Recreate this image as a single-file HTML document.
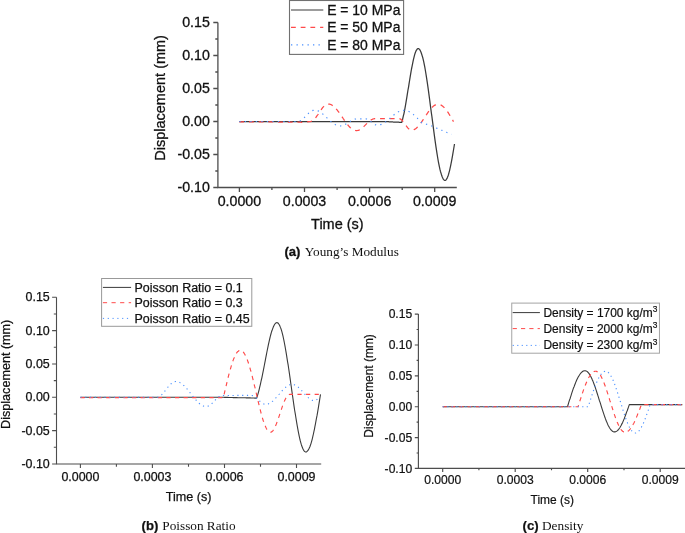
<!DOCTYPE html>
<html><head><meta charset="utf-8"><title>Figure</title>
<style>html,body{margin:0;padding:0;background:#fff;}svg{display:block;font-family:"Liberation Sans",Arial,Helvetica,sans-serif;}text{stroke:#111;stroke-width:0.3px;}.pb text{stroke-width:0.25px;}.pc text{stroke-width:0.2px;}svg text.cap{stroke:none;}</style>
</head><body>
<svg width="685" height="533" viewBox="0 0 685 533">
<rect width="685" height="533" fill="#fff"/>
<g class="pa">
<path d="M217.9 22.5 V187.5 H456.8" fill="none" stroke="#4d4d4d" stroke-width="1.3"/>
<path d="M213.3 22.5H217.9M215.3 39.0H217.9M213.3 55.5H217.9M215.3 72.0H217.9M213.3 88.5H217.9M215.3 105.0H217.9M213.3 121.5H217.9M215.3 138.0H217.9M213.3 154.5H217.9M215.3 171.0H217.9M213.3 187.5H217.9M239.4 187.5V192.1M271.9 187.5V190.1M304.5 187.5V192.1M337.1 187.5V190.1M369.6 187.5V192.1M402.2 187.5V190.1M434.7 187.5V192.1" fill="none" stroke="#4d4d4d" stroke-width="1.3"/>
<g font-size="14.2" fill="#111">
<text x="209.8" y="27.1" text-anchor="end">0.15</text>
<text x="209.8" y="60.1" text-anchor="end">0.10</text>
<text x="209.8" y="93.1" text-anchor="end">0.05</text>
<text x="209.8" y="126.1" text-anchor="end">0.00</text>
<text x="209.8" y="159.1" text-anchor="end">-0.05</text>
<text x="209.8" y="192.1" text-anchor="end">-0.10</text>
<text x="239.4" y="206.0" text-anchor="middle">0.0000</text>
<text x="304.5" y="206.0" text-anchor="middle">0.0003</text>
<text x="369.6" y="206.0" text-anchor="middle">0.0006</text>
<text x="434.7" y="206.0" text-anchor="middle">0.0009</text>
<text x="337.4" y="228.9" font-size="14.5" text-anchor="middle">Time (s)</text>
<text transform="translate(165.3 97.9) rotate(-90)" font-size="14.5" text-anchor="middle">Displacement (mm)</text>
</g>
<path d="M239.3 121.5 L239.8 121.5 L240.3 121.5 L240.8 121.5 L241.3 121.5 L241.8 121.5 L242.3 121.5 L242.8 121.5 L243.3 121.5 L243.8 121.5 L244.3 121.5 L244.8 121.5 L245.3 121.5 L245.8 121.5 L246.3 121.5 L246.8 121.5 L247.3 121.5 L247.8 121.5 L248.3 121.5 L248.8 121.5 L249.3 121.5 L249.8 121.5 L250.3 121.5 L250.8 121.5 L251.3 121.5 L251.8 121.5 L252.3 121.5 L252.8 121.5 L253.3 121.5 L253.8 121.5 L254.3 121.5 L254.8 121.5 L255.3 121.5 L255.8 121.5 L256.3 121.5 L256.8 121.5 L257.3 121.5 L257.8 121.5 L258.3 121.5 L258.8 121.5 L259.3 121.5 L259.8 121.5 L260.3 121.5 L260.8 121.5 L261.3 121.5 L261.8 121.5 L262.3 121.5 L262.8 121.5 L263.3 121.5 L263.8 121.5 L264.3 121.5 L264.8 121.5 L265.3 121.5 L265.8 121.5 L266.3 121.5 L266.8 121.5 L267.3 121.5 L267.8 121.5 L268.3 121.5 L268.8 121.5 L269.3 121.5 L269.8 121.5 L270.3 121.5 L270.8 121.5 L271.3 121.5 L271.8 121.5 L272.3 121.5 L272.8 121.5 L273.3 121.5 L273.8 121.5 L274.3 121.5 L274.8 121.5 L275.3 121.5 L275.9 121.5 L276.4 121.5 L276.9 121.5 L277.4 121.5 L277.9 121.5 L278.4 121.5 L278.9 121.5 L279.4 121.5 L279.9 121.5 L280.4 121.5 L280.9 121.5 L281.4 121.5 L281.9 121.5 L282.4 121.5 L282.9 121.5 L283.4 121.5 L283.9 121.5 L284.4 121.5 L284.9 121.5 L285.4 121.5 L285.9 121.5 L286.4 121.5 L286.9 121.5 L287.4 121.5 L287.9 121.5 L288.4 121.5 L288.9 121.5 L289.4 121.5 L289.9 121.5 L290.4 121.5 L290.9 121.5 L291.4 121.5 L291.9 121.5 L292.4 121.5 L292.9 121.5 L293.4 121.5 L293.9 121.5 L294.4 121.5 L294.9 121.5 L295.4 121.5 L295.9 121.5 L296.4 121.5 L296.9 121.5 L297.4 121.5 L297.9 121.5 L298.4 121.5 L298.9 121.5 L299.4 121.5 L299.9 121.5 L300.4 121.5 L300.9 121.5 L301.4 121.5 L301.9 121.5 L302.4 121.5 L302.9 121.5 L303.4 121.5 L303.9 121.5 L304.4 121.5 L304.9 121.5 L305.4 121.5 L305.9 121.5 L306.4 121.5 L306.9 121.5 L307.4 121.5 L307.9 121.5 L308.4 121.5 L308.9 121.5 L309.4 121.5 L309.9 121.5 L310.4 121.5 L310.9 121.5 L311.4 121.5 L311.9 121.5 L312.4 121.5 L312.9 121.5 L313.4 121.5 L313.9 121.5 L314.4 121.5 L314.9 121.5 L315.4 121.5 L315.9 121.5 L316.4 121.5 L316.9 121.5 L317.4 121.5 L317.9 121.5 L318.4 121.5 L318.9 121.5 L319.4 121.5 L319.9 121.5 L320.4 121.5 L320.9 121.5 L321.4 121.5 L321.9 121.5 L322.4 121.5 L322.9 121.5 L323.4 121.5 L323.9 121.5 L324.4 121.5 L324.9 121.5 L325.4 121.5 L325.9 121.5 L326.4 121.5 L326.9 121.5 L327.4 121.5 L327.9 121.5 L328.4 121.5 L328.9 121.5 L329.4 121.5 L329.9 121.5 L330.4 121.5 L330.9 121.5 L331.4 121.5 L331.9 121.5 L332.4 121.5 L332.9 121.5 L333.4 121.5 L333.9 121.5 L334.4 121.5 L334.9 121.5 L335.4 121.5 L335.9 121.5 L336.4 121.5 L336.9 121.5 L337.4 121.5 L337.9 121.5 L338.4 121.5 L338.9 121.5 L339.4 121.5 L339.9 121.5 L340.4 121.5 L340.9 121.5 L341.4 121.5 L341.9 121.5 L342.4 121.5 L342.9 121.5 L343.4 121.5 L343.9 121.5 L344.4 121.5 L344.9 121.5 L345.4 121.5 L345.9 121.5 L346.4 121.5 L346.9 121.5 L347.4 121.5 L348.0 121.5 L348.5 121.5 L349.0 121.5 L349.5 121.5 L350.0 121.5 L350.5 121.5 L351.0 121.5 L351.5 121.5 L352.0 121.5 L352.5 121.5 L353.0 121.5 L353.5 121.5 L354.0 121.5 L354.5 121.5 L355.0 121.5 L355.5 121.5 L356.0 121.5 L356.5 121.5 L357.0 121.5 L357.5 121.5 L358.0 121.5 L358.5 121.5 L359.0 121.5 L359.5 121.5 L360.0 121.5 L360.5 121.5 L361.0 121.5 L361.5 121.5 L362.0 121.5 L362.5 121.5 L363.0 121.5 L363.5 121.5 L364.0 121.5 L364.5 121.5 L365.0 121.5 L365.5 121.5 L366.0 121.5 L366.5 121.5 L367.0 121.5 L367.5 121.5 L368.0 121.5 L368.5 121.5 L369.0 121.5 L369.5 121.5 L370.0 121.5 L370.5 121.5 L371.0 121.5 L371.5 121.5 L372.0 121.5 L372.5 121.5 L373.0 121.5 L373.5 121.5 L374.0 121.5 L374.5 121.5 L375.0 121.5 L375.5 121.5 L376.0 121.5 L376.5 121.5 L377.0 121.5 L377.5 121.5 L378.0 121.5 L378.5 121.5 L379.0 121.5 L379.5 121.5 L380.0 121.5 L380.5 121.5 L381.0 121.5 L381.5 121.5 L382.0 121.5 L382.5 121.5 L383.0 121.5 L383.5 121.5 L384.0 121.5 L384.5 121.5 L385.0 121.6 L385.5 121.6 L386.0 121.6 L386.5 121.6 L387.1 121.7 L387.6 121.7 L388.1 121.7 L388.6 121.7 L389.1 121.8 L389.6 121.8 L390.1 121.8 L390.6 121.8 L391.1 121.9 L391.6 121.9 L392.1 121.9 L392.6 121.9 L393.2 122.0 L393.7 122.0 L394.2 122.0 L394.7 122.0 L395.2 122.1 L395.7 122.1 L396.2 122.1 L396.7 122.1 L397.2 122.2 L397.7 122.2 L398.2 122.2 L398.7 122.2 L399.3 122.3 L399.8 122.3 L400.3 122.3 L400.8 122.3 L401.3 122.4 L401.8 122.4 L402.3 120.5 L402.8 118.4 L403.3 116.2 L403.9 113.8 L404.4 111.3 L404.9 108.6 L405.4 105.8 L405.9 102.9 L406.4 99.9 L406.9 96.8 L407.4 93.7 L407.9 90.5 L408.5 87.3 L409.0 84.1 L409.5 81.0 L410.0 77.9 L410.5 74.8 L411.0 71.8 L411.5 69.0 L412.1 66.2 L412.6 63.6 L413.1 61.2 L413.6 58.9 L414.1 56.8 L414.6 54.9 L415.1 53.3 L415.6 51.9 L416.1 50.7 L416.7 49.8 L417.2 49.1 L417.7 48.7 L418.2 48.6 L418.7 48.7 L419.2 49.1 L419.7 49.6 L420.2 50.4 L420.7 51.5 L421.2 52.7 L421.7 54.2 L422.2 55.9 L422.8 57.8 L423.3 59.8 L423.8 62.1 L424.3 64.6 L424.8 67.2 L425.3 70.0 L425.8 73.0 L426.3 76.1 L426.8 79.3 L427.3 82.7 L427.8 86.2 L428.3 89.7 L428.8 93.4 L429.3 97.1 L429.8 100.9 L430.3 104.8 L430.8 108.6 L431.3 112.5 L431.9 116.5 L432.4 120.4 L432.9 124.2 L433.4 128.1 L433.9 131.9 L434.4 135.6 L434.9 139.3 L435.4 142.8 L435.9 146.3 L436.4 149.7 L436.9 152.9 L437.4 156.0 L437.9 159.0 L438.4 161.8 L438.9 164.4 L439.4 166.9 L439.9 169.2 L440.4 171.2 L441.0 173.1 L441.5 174.8 L442.0 176.3 L442.5 177.5 L443.0 178.6 L443.5 179.4 L444.0 179.9 L444.5 180.3 L445.0 180.4 L445.5 180.3 L446.0 179.9 L446.5 179.3 L447.0 178.4 L447.5 177.3 L448.0 176.0 L448.5 174.5 L449.0 172.7 L449.5 170.8 L450.0 168.7 L450.5 166.4 L451.0 163.9 L451.5 161.3 L452.0 158.6 L452.5 155.8 L453.0 152.9 L453.5 150.0 L454.0 147.0 L454.5 144.0" fill="none" stroke="#3a3a3a" stroke-width="1.25" stroke-linejoin="round"/>
<path d="M239.3 121.8 L239.8 121.8 L240.3 121.8 L240.8 121.8 L241.3 121.8 L241.8 121.8 L242.3 121.8 L242.8 121.8 L243.3 121.8 L243.8 121.8 L244.3 121.8 L244.8 121.8 L245.3 121.8 L245.8 121.8 L246.3 121.8 L246.8 121.8 L247.3 121.8 L247.8 121.8 L248.3 121.8 L248.8 121.8 L249.3 121.8 L249.8 121.8 L250.3 121.8 L250.8 121.8 L251.3 121.8 L251.9 121.9 L252.4 121.9 L252.9 121.9 L253.4 121.9 L253.9 121.9 L254.4 121.9 L254.9 121.9 L255.4 121.9 L255.9 121.9 L256.4 121.9 L256.9 121.9 L257.4 121.9 L257.9 121.9 L258.4 121.9 L258.9 121.9 L259.4 121.9 L259.9 121.9 L260.4 121.9 L260.9 121.9 L261.4 121.9 L261.9 121.9 L262.4 121.9 L262.9 121.9 L263.4 121.9 L263.9 121.9 L264.4 121.9 L264.9 121.9 L265.4 121.9 L265.9 121.9 L266.4 121.9 L266.9 121.9 L267.4 121.9 L267.9 121.9 L268.4 121.9 L268.9 121.9 L269.4 121.9 L269.9 121.9 L270.4 121.9 L270.9 121.9 L271.4 121.9 L271.9 121.9 L272.4 121.9 L272.9 121.9 L273.4 121.9 L273.9 121.9 L274.4 121.9 L274.9 121.9 L275.4 121.9 L276.0 122.0 L276.5 122.0 L277.0 122.0 L277.5 122.0 L278.0 122.0 L278.5 122.0 L279.0 122.0 L279.5 122.0 L280.0 122.0 L280.5 122.0 L281.0 122.0 L281.5 122.0 L282.0 122.0 L282.5 122.0 L283.0 122.0 L283.5 122.0 L284.0 122.0 L284.5 122.0 L285.0 122.0 L285.5 122.0 L286.0 122.0 L286.5 122.0 L287.0 122.0 L287.5 122.0 L288.0 122.0 L288.5 122.0 L289.0 122.0 L289.5 122.0 L290.0 122.0 L290.5 122.0 L291.0 122.1 L291.5 122.1 L292.0 122.1 L292.5 122.1 L293.0 122.1 L293.5 122.1 L294.0 122.1 L294.5 122.1 L295.0 122.1 L295.5 122.1 L296.0 122.2 L296.5 122.2 L297.0 122.2 L297.5 122.2 L298.0 122.2 L298.5 122.2 L299.0 122.2 L299.5 122.2 L300.0 122.2 L300.5 122.2 L301.0 122.2 L301.5 122.3 L302.0 122.3 L302.5 122.3 L303.0 122.3 L303.5 122.3 L304.0 122.3 L304.5 122.2 L305.0 122.2 L305.5 122.1 L306.0 122.0 L306.5 122.0 L307.0 121.9 L307.5 121.8 L308.0 121.8 L308.5 121.7 L309.0 121.6 L309.5 121.6 L310.0 121.5 L310.5 121.5 L311.0 121.4 L311.5 121.2 L312.0 121.0 L312.5 120.7 L313.0 120.3 L313.5 119.9 L314.0 119.5 L314.6 118.9 L315.1 118.4 L315.6 117.8 L316.1 117.1 L316.6 116.4 L317.1 115.7 L317.6 115.0 L318.1 114.3 L318.6 113.5 L319.1 112.8 L319.6 112.0 L320.1 111.2 L320.6 110.5 L321.1 109.8 L321.6 109.1 L322.1 108.4 L322.6 107.7 L323.1 107.1 L323.6 106.6 L324.2 106.0 L324.7 105.6 L325.2 105.2 L325.7 104.8 L326.2 104.5 L326.7 104.3 L327.2 104.1 L327.7 104.0 L328.2 104.0 L328.7 104.0 L329.2 104.1 L329.7 104.2 L330.2 104.3 L330.7 104.5 L331.2 104.7 L331.7 105.0 L332.2 105.3 L332.7 105.7 L333.3 106.0 L333.8 106.5 L334.3 106.9 L334.8 107.4 L335.3 107.9 L335.8 108.4 L336.3 109.0 L336.8 109.6 L337.3 110.2 L337.8 110.9 L338.3 111.5 L338.8 112.2 L339.3 112.9 L339.8 113.6 L340.3 114.3 L340.8 115.1 L341.3 115.8 L341.8 116.6 L342.4 117.3 L342.9 118.0 L343.4 118.8 L343.9 119.5 L344.4 120.3 L344.9 121.0 L345.4 121.7 L345.9 122.4 L346.4 123.1 L346.9 123.7 L347.4 124.4 L347.9 125.0 L348.4 125.6 L348.9 126.2 L349.4 126.7 L349.9 127.2 L350.4 127.7 L350.9 128.1 L351.4 128.6 L352.0 128.9 L352.5 129.3 L353.0 129.6 L353.5 129.9 L354.0 130.1 L354.5 130.3 L355.0 130.4 L355.5 130.5 L356.0 130.6 L356.5 130.6 L357.0 130.6 L357.5 130.5 L358.0 130.4 L358.5 130.3 L359.0 130.1 L359.5 129.8 L360.0 129.6 L360.5 129.3 L361.0 128.9 L361.5 128.6 L362.0 128.2 L362.5 127.8 L363.0 127.3 L363.5 126.9 L364.0 126.4 L364.5 125.9 L365.0 125.4 L365.5 124.9 L366.0 124.4 L366.5 123.9 L367.0 123.4 L367.5 122.9 L368.0 122.4 L368.5 122.0 L369.0 121.5 L369.5 121.1 L370.0 120.7 L370.5 120.4 L371.0 120.0 L371.5 119.7 L372.0 119.5 L372.5 119.2 L373.0 119.0 L373.5 118.9 L374.0 118.8 L374.5 118.7 L375.0 118.7 L375.5 118.7 L376.0 118.7 L376.5 118.7 L377.0 118.7 L377.5 118.7 L378.0 118.7 L378.5 118.7 L379.0 118.7 L379.5 118.7 L380.0 118.7 L380.5 118.7 L381.0 118.7 L381.5 118.7 L382.0 118.7 L382.5 118.7 L383.0 118.7 L383.5 118.7 L384.0 118.7 L384.5 118.7 L385.0 118.7 L385.5 118.7 L386.0 118.7 L386.5 118.7 L387.0 118.7 L387.5 118.7 L388.0 118.7 L388.5 118.7 L389.0 118.7 L389.5 118.7 L390.0 118.7 L390.5 118.7 L391.0 118.7 L391.5 118.7 L392.0 118.7 L392.5 118.7 L393.0 118.7 L393.5 118.7 L394.0 118.7 L394.5 118.7 L395.0 118.7 L395.5 118.7 L396.0 118.7 L396.5 118.7 L397.0 118.7 L397.5 118.7 L398.0 118.7 L398.5 118.7 L399.0 118.7 L399.5 118.7 L400.0 118.9 L400.5 119.1 L401.0 119.4 L401.5 119.8 L402.0 120.3 L402.5 120.8 L403.0 121.4 L403.5 122.0 L404.0 122.7 L404.5 123.4 L405.0 124.1 L405.5 124.8 L406.0 125.5 L406.5 126.2 L407.0 126.9 L407.5 127.5 L408.0 128.1 L408.5 128.6 L409.0 129.1 L409.5 129.5 L410.0 129.8 L410.5 130.0 L411.0 130.2 L411.5 130.2 L412.0 130.2 L412.5 130.1 L413.0 130.0 L413.5 129.8 L414.0 129.6 L414.5 129.4 L415.0 129.1 L415.5 128.8 L416.0 128.4 L416.5 128.0 L417.0 127.5 L417.5 127.1 L418.0 126.5 L418.5 126.0 L419.0 125.4 L419.5 124.8 L420.0 124.2 L420.5 123.5 L421.0 122.8 L421.5 122.1 L422.0 121.4 L422.5 120.7 L423.0 119.9 L423.5 119.2 L424.0 118.4 L424.5 117.6 L425.0 116.9 L425.5 116.1 L426.0 115.3 L426.5 114.6 L427.0 113.8 L427.5 113.1 L428.0 112.4 L428.5 111.7 L429.0 111.0 L429.5 110.3 L430.0 109.7 L430.5 109.1 L431.0 108.5 L431.5 108.0 L432.0 107.4 L432.5 107.0 L433.0 106.5 L433.5 106.1 L434.0 105.7 L434.5 105.4 L435.0 105.1 L435.5 104.9 L436.0 104.7 L436.5 104.5 L437.0 104.4 L437.5 104.3 L438.0 104.3 L438.5 104.3 L439.0 104.4 L439.5 104.5 L440.0 104.7 L440.5 104.9 L441.0 105.1 L441.5 105.4 L442.0 105.7 L442.5 106.1 L443.0 106.5 L443.5 106.9 L444.0 107.4 L444.5 107.9 L445.0 108.5 L445.5 109.1 L446.0 109.7 L446.5 110.3 L447.0 111.0 L447.5 111.7 L448.0 112.4 L448.5 113.2 L449.0 114.0 L449.5 114.8 L450.0 115.6 L450.5 116.4 L451.0 117.3 L451.5 118.1 L452.0 119.0 L452.5 119.8 L453.0 120.7 L453.5 121.6" fill="none" stroke="#ff4a4a" stroke-width="1.25" stroke-dasharray="4.8 4.9" stroke-linejoin="round"/>
<path d="M239.3 121.5 L239.8 121.5 L240.3 121.5 L240.8 121.5 L241.3 121.5 L241.8 121.5 L242.3 121.5 L242.8 121.5 L243.3 121.5 L243.8 121.5 L244.3 121.5 L244.8 121.5 L245.3 121.5 L245.8 121.5 L246.3 121.5 L246.8 121.5 L247.3 121.5 L247.8 121.5 L248.3 121.5 L248.8 121.5 L249.3 121.5 L249.8 121.5 L250.3 121.5 L250.8 121.5 L251.3 121.5 L251.8 121.5 L252.3 121.5 L252.8 121.5 L253.3 121.5 L253.9 121.5 L254.4 121.5 L254.9 121.5 L255.4 121.5 L255.9 121.5 L256.4 121.5 L256.9 121.5 L257.4 121.5 L257.9 121.5 L258.4 121.5 L258.9 121.5 L259.4 121.5 L259.9 121.5 L260.4 121.5 L260.9 121.5 L261.4 121.5 L261.9 121.5 L262.4 121.5 L262.9 121.5 L263.4 121.5 L263.9 121.5 L264.4 121.5 L264.9 121.5 L265.4 121.5 L265.9 121.5 L266.4 121.5 L266.9 121.5 L267.4 121.5 L267.9 121.5 L268.4 121.5 L268.9 121.5 L269.4 121.5 L269.9 121.5 L270.4 121.5 L270.9 121.5 L271.4 121.5 L271.9 121.5 L272.4 121.5 L272.9 121.5 L273.4 121.5 L273.9 121.5 L274.4 121.5 L274.9 121.5 L275.4 121.5 L275.9 121.5 L276.4 121.5 L276.9 121.5 L277.4 121.5 L277.9 121.5 L278.4 121.5 L278.9 121.5 L279.4 121.5 L279.9 121.5 L280.4 121.5 L280.9 121.5 L281.4 121.5 L281.9 121.5 L282.4 121.5 L282.9 121.5 L283.5 121.5 L284.0 121.5 L284.5 121.5 L285.0 121.5 L285.5 121.5 L286.0 121.5 L286.5 121.5 L287.0 121.5 L287.5 121.5 L288.0 121.5 L288.5 121.5 L289.0 121.5 L289.5 121.5 L290.0 121.5 L290.5 121.5 L291.0 121.5 L291.5 121.5 L292.0 121.5 L292.5 121.5 L293.0 121.5 L293.5 121.5 L294.0 121.5 L294.5 121.5 L295.0 121.5 L295.5 121.5 L296.0 121.5 L296.5 121.5 L297.0 121.5 L297.5 121.5 L298.0 121.5 L298.5 121.4 L299.0 121.3 L299.5 121.1 L300.0 120.9 L300.5 120.7 L301.0 120.4 L301.5 120.0 L302.0 119.7 L302.5 119.3 L303.0 118.8 L303.5 118.4 L304.0 117.9 L304.5 117.4 L305.0 116.9 L305.5 116.4 L306.0 115.9 L306.5 115.3 L307.0 114.8 L307.5 114.3 L308.0 113.8 L308.5 113.3 L309.0 112.9 L309.5 112.4 L310.0 112.0 L310.5 111.7 L311.0 111.3 L311.5 111.0 L312.0 110.8 L312.5 110.6 L313.0 110.4 L313.5 110.3 L314.0 110.2 L314.5 110.2 L315.0 110.2 L315.5 110.3 L316.0 110.3 L316.5 110.4 L317.0 110.6 L317.5 110.7 L318.0 110.9 L318.5 111.1 L319.0 111.4 L319.5 111.7 L320.0 111.9 L320.5 112.3 L321.0 112.6 L321.5 113.0 L322.0 113.3 L322.5 113.7 L323.0 114.2 L323.5 114.6 L324.0 115.0 L324.5 115.5 L325.0 115.9 L325.5 116.4 L326.0 116.9 L326.5 117.4 L327.0 117.9 L327.5 118.3 L328.0 118.8 L328.5 119.3 L329.0 119.8 L329.5 120.3 L330.0 120.7 L330.5 121.2 L331.0 121.6 L331.5 122.0 L332.0 122.5 L332.5 122.9 L333.0 123.2 L333.5 123.6 L334.0 123.9 L334.5 124.3 L335.0 124.5 L335.5 124.8 L336.0 125.1 L336.5 125.3 L337.0 125.5 L337.5 125.6 L338.0 125.8 L338.5 125.9 L339.0 125.9 L339.5 126.0 L340.0 126.0 L340.5 126.0 L341.0 125.9 L341.5 125.9 L342.0 125.8 L342.5 125.6 L343.0 125.5 L343.5 125.3 L344.0 125.1 L344.5 124.8 L345.0 124.6 L345.5 124.3 L346.0 124.0 L346.5 123.7 L347.0 123.4 L347.5 123.1 L348.0 122.8 L348.5 122.5 L349.0 122.1 L349.5 121.8 L350.0 121.5 L350.5 121.2 L351.0 120.9 L351.5 120.6 L352.0 120.3 L352.5 120.1 L353.0 119.8 L353.5 119.6 L354.0 119.4 L354.5 119.3 L355.0 119.1 L355.5 119.0 L356.0 119.0 L356.5 118.9 L357.0 118.9 L357.5 118.9 L358.0 118.9 L358.5 118.9 L359.0 118.9 L359.5 118.9 L360.0 118.9 L360.5 118.9 L361.0 118.9 L361.5 118.9 L362.0 118.9 L362.5 118.9 L363.0 118.9 L363.5 118.9 L364.0 118.9 L364.5 118.9 L365.0 118.9 L365.5 118.9 L366.0 118.9 L366.5 119.0 L367.0 119.2 L367.6 119.4 L368.1 119.6 L368.6 119.9 L369.1 120.2 L369.6 120.6 L370.1 121.0 L370.6 121.4 L371.1 121.8 L371.7 122.3 L372.2 122.7 L372.7 123.1 L373.2 123.5 L373.7 123.9 L374.2 124.2 L374.7 124.5 L375.2 124.7 L375.8 124.9 L376.3 125.1 L376.8 125.2 L377.3 125.2 L377.8 125.2 L378.3 125.1 L378.8 125.1 L379.3 125.0 L379.8 124.9 L380.3 124.7 L380.8 124.6 L381.3 124.4 L381.8 124.2 L382.3 123.9 L382.8 123.7 L383.3 123.4 L383.8 123.1 L384.3 122.8 L384.8 122.4 L385.3 122.1 L385.8 121.7 L386.3 121.3 L386.8 121.0 L387.3 120.5 L387.8 120.1 L388.3 119.7 L388.8 119.3 L389.3 118.8 L389.8 118.4 L390.3 118.0 L390.8 117.5 L391.3 117.1 L391.8 116.7 L392.3 116.2 L392.8 115.8 L393.3 115.4 L393.8 115.0 L394.3 114.5 L394.8 114.2 L395.3 113.8 L395.8 113.4 L396.3 113.1 L396.8 112.7 L397.3 112.4 L397.8 112.1 L398.3 111.8 L398.8 111.6 L399.3 111.3 L399.8 111.1 L400.3 110.9 L400.8 110.8 L401.3 110.6 L401.8 110.5 L402.3 110.4 L402.8 110.4 L403.3 110.3 L403.8 110.3 L404.3 110.3 L404.8 110.3 L405.3 110.4 L405.8 110.5 L406.3 110.6 L406.8 110.7 L407.3 110.9 L407.8 111.1 L408.3 111.3 L408.8 111.5 L409.3 111.7 L409.8 112.0 L410.3 112.3 L410.8 112.6 L411.3 112.9 L411.8 113.3 L412.3 113.7 L412.8 114.0 L413.3 114.4 L413.8 114.9 L414.3 115.3 L414.8 115.7 L415.3 116.2 L415.8 116.7 L416.3 117.2 L416.8 117.6 L417.3 118.1 L417.8 118.7 L418.3 119.2 L418.8 119.7 L419.3 120.2 L419.8 120.8 L420.3 121.3 L420.8 121.9 L421.3 122.4 L421.8 122.6 L422.3 122.8 L422.9 122.9 L423.4 123.1 L423.9 123.3 L424.4 123.5 L424.9 123.7 L425.5 123.8 L426.0 124.0 L426.5 124.2 L427.0 124.4 L427.5 124.6 L428.1 124.7 L428.6 124.9 L429.1 125.1 L429.6 125.3 L430.1 125.5 L430.7 125.6 L431.2 125.8 L431.7 126.0 L432.2 126.2 L432.7 126.4 L433.2 126.6 L433.7 126.9 L434.2 127.1 L434.7 127.3 L435.3 127.5 L435.8 127.7 L436.3 127.9 L436.8 128.2 L437.3 128.4 L437.8 128.6 L438.3 128.8 L438.8 129.0 L439.3 129.2 L439.8 129.4 L440.3 129.7 L440.8 129.9 L441.3 130.1 L441.9 130.3 L442.4 130.5 L442.9 130.7 L443.4 131.0 L443.9 131.2 L444.4 131.4 L444.9 131.6 L445.4 131.8 L445.9 132.0 L446.4 132.2 L446.9 132.5 L447.4 132.7 L447.9 132.9 L448.5 133.1 L449.0 133.3 L449.5 133.5 L450.0 133.8 L450.5 134.0 L451.0 134.2 L451.5 134.4" fill="none" stroke="#4a90ff" stroke-width="1.2" stroke-dasharray="1.3 4.2" stroke-linejoin="round"/>
<rect x="289.5" y="0.5" width="114.1" height="53.9" fill="#fff" stroke="#707070" stroke-width="1.1"/>
<path d="M291.0 10.0H323.3" fill="none" stroke="#3a3a3a" stroke-width="1.2" stroke-linejoin="round"/>
<text x="327.2" y="14.8" font-size="13.95" fill="#111">E = 10 MPa</text>
<path d="M291.0 27.4H323.3" fill="none" stroke="#ff4a4a" stroke-width="1.2" stroke-dasharray="4.8 4.9" stroke-linejoin="round"/>
<text x="327.2" y="32.2" font-size="13.95" fill="#111">E = 50 MPa</text>
<path d="M291.0 44.8H323.3" fill="none" stroke="#4a90ff" stroke-width="1.2" stroke-dasharray="1.3 4.2" stroke-linejoin="round"/>
<text x="327.2" y="49.6" font-size="13.95" fill="#111">E = 80 MPa</text>
<text x="284.5" y="255.9" font-size="13.05" font-weight="bold" fill="#111">(a)</text>
<text x="304.8" y="255.9" font-size="13.25" class="cap" font-family="'Liberation Serif','Times New Roman',serif" fill="#111">Young’s Modulus</text>
</g>
<g class="pb">
<path d="M56.5 297.3 V464.0 H321.2" fill="none" stroke="#4d4d4d" stroke-width="1.1"/>
<path d="M52.1 297.3H56.5M53.8 314.0H56.5M52.1 330.6H56.5M53.8 347.3H56.5M52.1 364.0H56.5M53.8 380.6H56.5M52.1 397.3H56.5M53.8 414.0H56.5M52.1 430.6H56.5M53.8 447.3H56.5M52.1 464.0H56.5M80.4 464.0V467.9M116.4 464.0V466.7M152.4 464.0V467.9M188.5 464.0V466.7M224.5 464.0V467.9M260.5 464.0V466.7M296.5 464.0V467.9" fill="none" stroke="#4d4d4d" stroke-width="1.1"/>
<g font-size="12.45" fill="#111">
<text x="49.8" y="301.3" text-anchor="end">0.15</text>
<text x="49.8" y="334.7" text-anchor="end">0.10</text>
<text x="49.8" y="368.0" text-anchor="end">0.05</text>
<text x="49.8" y="401.4" text-anchor="end">0.00</text>
<text x="49.8" y="434.7" text-anchor="end">-0.05</text>
<text x="49.8" y="468.0" text-anchor="end">-0.10</text>
<text x="80.4" y="480.8" text-anchor="middle">0.0000</text>
<text x="152.4" y="480.8" text-anchor="middle">0.0003</text>
<text x="224.5" y="480.8" text-anchor="middle">0.0006</text>
<text x="296.5" y="480.8" text-anchor="middle">0.0009</text>
<text x="188.7" y="500.8" font-size="12.6" text-anchor="middle">Time (s)</text>
<text transform="translate(9.9 374.3) rotate(-90)" font-size="12.6" text-anchor="middle">Displacement (mm)</text>
</g>
<path d="M80.4 397.3 L80.9 397.3 L81.4 397.3 L81.9 397.3 L82.4 397.3 L82.9 397.3 L83.4 397.3 L83.9 397.3 L84.4 397.3 L84.9 397.3 L85.4 397.3 L85.9 397.3 L86.4 397.3 L86.9 397.3 L87.4 397.3 L87.9 397.3 L88.4 397.3 L88.9 397.3 L89.4 397.3 L89.9 397.3 L90.4 397.3 L90.9 397.3 L91.4 397.3 L91.9 397.3 L92.4 397.3 L92.9 397.3 L93.4 397.3 L93.9 397.3 L94.4 397.3 L94.9 397.3 L95.4 397.3 L95.9 397.3 L96.4 397.3 L96.9 397.3 L97.4 397.3 L97.9 397.3 L98.4 397.3 L98.9 397.3 L99.4 397.3 L99.9 397.3 L100.4 397.3 L100.9 397.3 L101.4 397.3 L101.9 397.3 L102.4 397.3 L102.9 397.3 L103.4 397.3 L103.9 397.3 L104.4 397.3 L104.9 397.3 L105.4 397.3 L105.9 397.3 L106.4 397.3 L106.9 397.3 L107.4 397.3 L107.9 397.3 L108.4 397.3 L108.9 397.3 L109.4 397.3 L109.9 397.3 L110.4 397.3 L110.9 397.3 L111.4 397.3 L111.9 397.3 L112.4 397.3 L112.9 397.3 L113.4 397.3 L113.9 397.3 L114.4 397.3 L114.9 397.3 L115.4 397.3 L115.9 397.3 L116.4 397.3 L116.9 397.3 L117.4 397.3 L117.9 397.3 L118.4 397.3 L118.9 397.3 L119.4 397.3 L119.9 397.3 L120.4 397.3 L120.9 397.3 L121.4 397.3 L121.9 397.3 L122.4 397.3 L122.9 397.3 L123.4 397.3 L123.9 397.3 L124.4 397.3 L124.9 397.3 L125.4 397.3 L125.9 397.3 L126.4 397.3 L126.9 397.3 L127.4 397.3 L127.9 397.3 L128.4 397.3 L128.9 397.3 L129.4 397.3 L129.9 397.3 L130.4 397.3 L130.9 397.3 L131.4 397.3 L131.9 397.3 L132.4 397.3 L132.9 397.3 L133.4 397.3 L133.9 397.3 L134.4 397.3 L134.9 397.3 L135.4 397.3 L135.9 397.3 L136.4 397.3 L136.9 397.3 L137.4 397.3 L137.9 397.3 L138.4 397.3 L138.9 397.3 L139.4 397.3 L139.9 397.3 L140.4 397.3 L140.9 397.3 L141.4 397.3 L141.9 397.3 L142.4 397.3 L142.9 397.3 L143.4 397.3 L143.9 397.3 L144.4 397.3 L144.9 397.3 L145.4 397.3 L145.9 397.3 L146.4 397.3 L146.9 397.3 L147.4 397.3 L147.9 397.3 L148.4 397.3 L148.9 397.3 L149.4 397.3 L149.9 397.3 L150.4 397.3 L150.9 397.3 L151.5 397.3 L152.0 397.3 L152.5 397.3 L153.0 397.3 L153.5 397.3 L154.0 397.3 L154.5 397.3 L155.0 397.3 L155.5 397.3 L156.0 397.3 L156.5 397.3 L157.0 397.3 L157.5 397.3 L158.0 397.3 L158.5 397.3 L159.0 397.3 L159.5 397.3 L160.0 397.3 L160.5 397.3 L161.0 397.3 L161.5 397.3 L162.0 397.3 L162.5 397.3 L163.0 397.3 L163.5 397.3 L164.0 397.3 L164.5 397.3 L165.0 397.3 L165.5 397.3 L166.0 397.3 L166.5 397.3 L167.0 397.3 L167.5 397.3 L168.0 397.3 L168.5 397.3 L169.0 397.3 L169.5 397.3 L170.0 397.3 L170.5 397.3 L171.0 397.3 L171.5 397.3 L172.0 397.3 L172.5 397.3 L173.0 397.3 L173.5 397.3 L174.0 397.3 L174.5 397.3 L175.0 397.3 L175.5 397.3 L176.0 397.3 L176.5 397.3 L177.0 397.3 L177.5 397.3 L178.0 397.3 L178.5 397.3 L179.0 397.3 L179.5 397.3 L180.0 397.3 L180.5 397.3 L181.0 397.3 L181.5 397.3 L182.0 397.3 L182.5 397.3 L183.0 397.3 L183.5 397.3 L184.0 397.3 L184.5 397.3 L185.0 397.3 L185.5 397.3 L186.0 397.3 L186.5 397.3 L187.0 397.3 L187.5 397.3 L188.0 397.3 L188.5 397.3 L189.0 397.3 L189.5 397.3 L190.0 397.3 L190.5 397.3 L191.0 397.3 L191.5 397.3 L192.0 397.3 L192.5 397.3 L193.0 397.3 L193.5 397.3 L194.0 397.3 L194.5 397.3 L195.0 397.3 L195.5 397.3 L196.0 397.3 L196.5 397.3 L197.0 397.3 L197.5 397.3 L198.0 397.3 L198.5 397.3 L199.0 397.3 L199.5 397.3 L200.0 397.3 L200.5 397.3 L201.0 397.3 L201.5 397.3 L202.0 397.3 L202.5 397.3 L203.0 397.3 L203.5 397.3 L204.0 397.3 L204.5 397.3 L205.0 397.3 L205.5 397.3 L206.0 397.3 L206.5 397.3 L207.0 397.3 L207.5 397.3 L208.0 397.3 L208.5 397.3 L209.0 397.3 L209.5 397.3 L210.0 397.3 L210.5 397.3 L211.0 397.3 L211.5 397.3 L212.0 397.3 L212.5 397.3 L213.0 397.3 L213.5 397.3 L214.0 397.3 L214.5 397.3 L215.0 397.3 L215.5 397.3 L216.0 397.3 L216.5 397.3 L217.0 397.3 L217.5 397.3 L218.0 397.3 L218.5 397.3 L219.0 397.3 L219.5 397.3 L220.0 397.3 L220.5 397.3 L221.0 397.3 L221.5 397.3 L222.0 397.3 L222.5 397.3 L223.0 397.3 L223.5 397.3 L224.0 397.3 L224.5 397.4 L225.0 397.4 L225.5 397.4 L226.0 397.4 L226.5 397.4 L227.0 397.4 L227.5 397.4 L228.0 397.4 L228.5 397.5 L229.0 397.5 L229.5 397.5 L230.0 397.5 L230.5 397.5 L231.1 397.5 L231.6 397.5 L232.1 397.5 L232.6 397.5 L233.1 397.6 L233.6 397.6 L234.1 397.6 L234.6 397.6 L235.1 397.6 L235.6 397.6 L236.1 397.6 L236.6 397.6 L237.1 397.6 L237.6 397.7 L238.1 397.7 L238.6 397.7 L239.1 397.7 L239.6 397.7 L240.1 397.7 L240.6 397.7 L241.1 397.7 L241.6 397.8 L242.1 397.8 L242.6 397.8 L243.1 397.8 L243.6 397.8 L244.1 397.8 L244.6 397.8 L245.1 397.8 L245.6 397.8 L246.1 397.9 L246.6 397.9 L247.1 397.9 L247.6 397.9 L248.2 397.9 L248.7 397.9 L249.2 397.9 L249.7 397.9 L250.2 397.9 L250.7 398.0 L251.2 398.0 L251.7 398.0 L252.2 398.0 L252.7 398.0 L253.2 398.0 L253.7 398.0 L254.2 398.0 L254.7 398.1 L255.2 398.1 L255.7 398.1 L256.2 398.1 L256.7 398.1 L257.2 396.6 L257.7 394.9 L258.2 393.1 L258.7 391.3 L259.2 389.3 L259.7 387.2 L260.2 385.1 L260.7 382.8 L261.2 380.5 L261.8 378.1 L262.3 375.7 L262.8 373.2 L263.3 370.6 L263.8 368.1 L264.3 365.5 L264.8 362.9 L265.3 360.3 L265.8 357.7 L266.3 355.1 L266.8 352.5 L267.3 350.0 L267.8 347.6 L268.3 345.2 L268.8 342.9 L269.3 340.6 L269.8 338.5 L270.3 336.4 L270.8 334.5 L271.3 332.7 L271.8 331.0 L272.4 329.5 L272.9 328.1 L273.4 326.8 L273.9 325.7 L274.4 324.8 L274.9 324.0 L275.4 323.4 L275.9 322.9 L276.4 322.7 L276.9 322.6 L277.4 322.7 L277.9 323.0 L278.4 323.5 L278.9 324.2 L279.4 325.0 L279.9 326.1 L280.4 327.4 L281.0 328.8 L281.5 330.4 L282.0 332.2 L282.5 334.1 L283.0 336.2 L283.5 338.5 L284.0 340.9 L284.5 343.5 L285.0 346.2 L285.5 349.0 L286.0 351.9 L286.5 354.9 L287.0 358.1 L287.5 361.3 L288.1 364.6 L288.6 368.0 L289.1 371.4 L289.6 374.9 L290.1 378.4 L290.6 382.0 L291.1 385.5 L291.6 389.1 L292.1 392.6 L292.6 396.2 L293.1 399.7 L293.6 403.2 L294.1 406.6 L294.6 410.0 L295.2 413.3 L295.7 416.5 L296.2 419.6 L296.7 422.7 L297.2 425.6 L297.7 428.4 L298.2 431.1 L298.7 433.7 L299.2 436.1 L299.7 438.4 L300.2 440.5 L300.7 442.4 L301.2 444.2 L301.7 445.8 L302.3 447.2 L302.8 448.5 L303.3 449.6 L303.8 450.4 L304.3 451.1 L304.8 451.6 L305.3 451.9 L305.8 452.0 L306.3 451.9 L306.8 451.7 L307.3 451.2 L307.8 450.7 L308.3 449.9 L308.8 449.0 L309.3 447.9 L309.9 446.7 L310.4 445.3 L310.9 443.8 L311.4 442.1 L311.9 440.3 L312.4 438.3 L312.9 436.2 L313.4 434.0 L313.9 431.7 L314.4 429.3 L314.9 426.7 L315.4 424.1 L315.9 421.4 L316.4 418.6 L317.0 415.7 L317.5 412.8 L318.0 409.8 L318.5 406.8 L319.0 403.7 L319.5 400.6 L320.0 397.5 L320.5 394.4" fill="none" stroke="#3a3a3a" stroke-width="1.1" stroke-linejoin="round"/>
<path d="M80.4 397.6 L80.9 397.6 L81.4 397.6 L81.9 397.6 L82.4 397.6 L82.9 397.6 L83.4 397.6 L83.9 397.6 L84.4 397.6 L84.9 397.6 L85.4 397.6 L85.9 397.6 L86.4 397.6 L86.9 397.6 L87.4 397.6 L87.9 397.6 L88.4 397.6 L88.9 397.6 L89.4 397.6 L89.9 397.6 L90.4 397.6 L90.9 397.6 L91.4 397.6 L91.9 397.6 L92.4 397.6 L92.9 397.6 L93.4 397.6 L93.9 397.6 L94.4 397.6 L94.9 397.6 L95.4 397.6 L95.9 397.6 L96.4 397.6 L96.9 397.6 L97.4 397.6 L97.9 397.6 L98.4 397.6 L98.9 397.6 L99.4 397.6 L99.9 397.6 L100.4 397.6 L100.9 397.6 L101.4 397.6 L101.9 397.6 L102.4 397.6 L102.9 397.6 L103.4 397.6 L103.9 397.6 L104.4 397.6 L104.9 397.6 L105.4 397.6 L105.9 397.6 L106.4 397.6 L106.9 397.6 L107.4 397.6 L107.9 397.6 L108.4 397.6 L108.9 397.6 L109.4 397.6 L109.9 397.6 L110.4 397.6 L110.9 397.6 L111.4 397.6 L111.9 397.6 L112.4 397.6 L112.9 397.6 L113.4 397.6 L113.9 397.6 L114.4 397.6 L114.9 397.6 L115.4 397.6 L115.9 397.6 L116.4 397.6 L116.9 397.6 L117.4 397.6 L117.9 397.6 L118.4 397.6 L118.9 397.6 L119.4 397.6 L119.9 397.6 L120.4 397.6 L120.9 397.6 L121.4 397.6 L121.9 397.6 L122.4 397.6 L122.9 397.6 L123.4 397.6 L123.9 397.6 L124.4 397.6 L124.9 397.6 L125.4 397.6 L125.9 397.6 L126.4 397.6 L126.9 397.6 L127.4 397.6 L127.9 397.6 L128.4 397.6 L128.9 397.6 L129.4 397.6 L129.9 397.6 L130.4 397.6 L130.9 397.6 L131.4 397.6 L131.9 397.6 L132.4 397.6 L132.9 397.6 L133.4 397.6 L133.9 397.6 L134.4 397.6 L134.9 397.6 L135.4 397.6 L135.9 397.6 L136.4 397.6 L136.9 397.6 L137.4 397.6 L137.9 397.6 L138.4 397.6 L138.9 397.6 L139.4 397.6 L139.9 397.6 L140.4 397.6 L140.9 397.6 L141.4 397.6 L141.9 397.6 L142.4 397.6 L142.9 397.6 L143.4 397.6 L143.9 397.6 L144.4 397.6 L144.9 397.6 L145.4 397.6 L145.9 397.6 L146.4 397.6 L146.9 397.6 L147.4 397.6 L147.9 397.6 L148.4 397.6 L148.9 397.6 L149.4 397.6 L149.9 397.6 L150.4 397.6 L150.9 397.6 L151.4 397.6 L151.9 397.6 L152.4 397.6 L152.9 397.6 L153.4 397.6 L153.9 397.6 L154.4 397.6 L154.9 397.6 L155.4 397.6 L155.9 397.6 L156.4 397.6 L156.9 397.6 L157.4 397.6 L157.9 397.6 L158.4 397.6 L158.9 397.6 L159.4 397.6 L159.9 397.6 L160.4 397.6 L160.9 397.6 L161.4 397.6 L161.9 397.6 L162.4 397.6 L162.9 397.6 L163.4 397.6 L163.9 397.6 L164.4 397.6 L164.9 397.6 L165.4 397.6 L165.9 397.6 L166.4 397.6 L166.9 397.6 L167.4 397.6 L167.9 397.6 L168.4 397.6 L168.9 397.6 L169.4 397.6 L169.9 397.6 L170.4 397.6 L170.9 397.6 L171.4 397.6 L171.9 397.6 L172.4 397.6 L172.9 397.6 L173.4 397.6 L173.9 397.6 L174.4 397.6 L174.9 397.6 L175.4 397.6 L175.9 397.6 L176.4 397.6 L176.9 397.6 L177.4 397.6 L177.9 397.6 L178.4 397.6 L178.9 397.6 L179.4 397.6 L179.9 397.6 L180.4 397.6 L180.9 397.6 L181.4 397.6 L181.9 397.6 L182.4 397.6 L182.9 397.6 L183.4 397.6 L183.9 397.6 L184.4 397.6 L184.9 397.6 L185.4 397.6 L185.9 397.6 L186.4 397.6 L186.9 397.6 L187.4 397.6 L187.9 397.6 L188.4 397.6 L188.9 397.6 L189.4 397.6 L189.9 397.6 L190.4 397.6 L190.9 397.6 L191.4 397.6 L191.9 397.6 L192.4 397.6 L192.9 397.6 L193.4 397.6 L193.9 397.6 L194.4 397.6 L194.9 397.6 L195.4 397.6 L195.9 397.6 L196.4 397.6 L196.9 397.6 L197.4 397.6 L197.9 397.6 L198.4 397.6 L198.9 397.6 L199.4 397.6 L199.9 397.6 L200.4 397.6 L200.9 397.6 L201.4 397.6 L201.9 397.6 L202.4 397.6 L202.9 397.6 L203.4 397.6 L203.9 397.6 L204.4 397.6 L204.9 397.6 L205.4 397.6 L205.9 397.6 L206.4 397.6 L206.9 397.6 L207.4 397.6 L207.9 397.6 L208.4 397.6 L208.9 397.6 L209.4 397.6 L209.9 397.6 L210.4 397.6 L210.9 397.6 L211.4 397.6 L211.9 397.6 L212.4 397.6 L212.9 397.6 L213.4 397.6 L213.9 397.6 L214.4 397.6 L214.9 397.6 L215.4 397.6 L215.9 397.6 L216.4 397.6 L216.9 397.6 L217.4 397.6 L217.9 397.6 L218.4 397.6 L218.9 397.6 L219.4 397.6 L219.9 397.6 L220.4 397.6 L220.9 397.6 L221.4 397.6 L221.9 397.6 L222.4 397.6 L222.9 397.6 L223.4 397.6 L223.9 395.3 L224.4 393.1 L224.9 390.9 L225.4 388.6 L226.0 386.4 L226.5 384.3 L227.0 382.1 L227.5 380.0 L228.0 378.0 L228.5 375.9 L229.0 374.0 L229.5 372.0 L230.1 370.2 L230.6 368.4 L231.1 366.6 L231.6 365.0 L232.1 363.4 L232.6 361.9 L233.1 360.4 L233.6 359.1 L234.2 357.8 L234.7 356.6 L235.2 355.6 L235.7 354.6 L236.2 353.7 L236.7 352.9 L237.2 352.2 L237.7 351.6 L238.3 351.2 L238.8 350.8 L239.3 350.5 L239.8 350.4 L240.3 350.3 L240.8 350.4 L241.3 350.5 L241.8 350.8 L242.3 351.1 L242.9 351.6 L243.4 352.2 L243.9 352.9 L244.4 353.7 L244.9 354.5 L245.4 355.5 L245.9 356.6 L246.4 357.8 L247.0 359.0 L247.5 360.4 L248.0 361.8 L248.5 363.3 L249.0 364.9 L249.5 366.5 L250.0 368.2 L250.5 370.0 L251.1 371.9 L251.6 373.8 L252.1 375.8 L252.6 377.8 L253.1 379.8 L253.6 381.9 L254.1 384.1 L254.6 386.2 L255.2 388.4 L255.7 390.6 L256.2 392.8 L256.7 395.1 L257.2 397.3 L257.7 399.4 L258.2 401.5 L258.7 403.6 L259.2 405.7 L259.7 407.7 L260.2 409.7 L260.7 411.7 L261.2 413.6 L261.7 415.4 L262.2 417.2 L262.7 418.9 L263.2 420.5 L263.8 422.0 L264.3 423.5 L264.8 424.9 L265.3 426.1 L265.8 427.3 L266.3 428.3 L266.8 429.2 L267.3 430.0 L267.8 430.7 L268.3 431.3 L268.8 431.7 L269.3 432.0 L269.8 432.2 L270.3 432.3 L270.8 432.2 L271.3 432.1 L271.8 431.7 L272.3 431.3 L272.8 430.8 L273.3 430.1 L273.8 429.4 L274.3 428.5 L274.8 427.5 L275.3 426.5 L275.8 425.3 L276.3 424.1 L276.8 422.8 L277.3 421.5 L277.8 420.1 L278.3 418.6 L278.8 417.1 L279.3 415.6 L279.8 414.1 L280.3 412.6 L280.8 411.1 L281.3 409.6 L281.8 408.1 L282.3 406.6 L282.8 405.2 L283.3 403.9 L283.8 402.6 L284.3 401.4 L284.8 400.2 L285.3 399.2 L285.8 398.2 L286.3 397.3 L286.8 396.6 L287.3 395.9 L287.8 395.4 L288.3 395.0 L288.8 394.6 L289.3 394.5 L289.8 394.4 L290.3 394.4 L290.8 394.4 L291.3 394.4 L291.8 394.4 L292.3 394.4 L292.8 394.4 L293.3 394.4 L293.8 394.4 L294.3 394.4 L294.8 394.4 L295.3 394.4 L295.8 394.4 L296.3 394.4 L296.8 394.4 L297.3 394.4 L297.9 394.4 L298.4 394.4 L298.9 394.4 L299.4 394.4 L299.9 394.4 L300.4 394.4 L300.9 394.4 L301.4 394.4 L301.9 394.4 L302.4 394.4 L302.9 394.4 L303.4 394.4 L303.9 394.4 L304.4 394.4 L304.9 394.4 L305.4 394.4 L305.9 394.4 L306.4 394.4 L306.9 394.4 L307.4 394.4 L307.9 394.4 L308.4 394.4 L308.9 394.4 L309.4 394.4 L309.9 394.4 L310.4 394.4 L310.9 394.4 L311.4 394.4 L311.9 394.4 L312.4 394.4 L313.0 394.4 L313.5 394.4 L314.0 394.4 L314.5 394.4 L315.0 394.4 L315.5 394.4 L316.0 394.4 L316.5 394.4 L317.0 394.4 L317.5 394.4 L318.0 394.4 L318.5 394.4 L319.0 394.4 L319.5 394.4 L320.0 394.4 L320.5 394.4" fill="none" stroke="#ff4a4a" stroke-width="1.15" stroke-dasharray="4.2 4.4" stroke-linejoin="round"/>
<path d="M80.4 397.3 L80.9 397.3 L81.4 397.3 L81.9 397.3 L82.4 397.3 L82.9 397.3 L83.4 397.3 L83.9 397.3 L84.4 397.3 L84.9 397.3 L85.4 397.3 L85.9 397.3 L86.4 397.3 L86.9 397.3 L87.4 397.3 L87.9 397.3 L88.4 397.3 L88.9 397.3 L89.4 397.3 L89.9 397.3 L90.4 397.3 L90.9 397.3 L91.4 397.3 L91.9 397.3 L92.4 397.3 L92.9 397.3 L93.4 397.3 L93.9 397.3 L94.4 397.3 L94.9 397.3 L95.4 397.3 L95.9 397.3 L96.4 397.3 L96.9 397.3 L97.4 397.3 L97.9 397.3 L98.4 397.3 L98.9 397.3 L99.4 397.3 L99.9 397.3 L100.4 397.3 L100.9 397.3 L101.4 397.3 L101.9 397.3 L102.4 397.3 L102.9 397.3 L103.4 397.3 L103.9 397.3 L104.4 397.3 L104.9 397.3 L105.4 397.3 L105.9 397.3 L106.4 397.3 L106.9 397.3 L107.4 397.3 L107.9 397.3 L108.4 397.3 L108.9 397.3 L109.4 397.3 L109.9 397.3 L110.4 397.3 L110.9 397.3 L111.4 397.3 L111.9 397.3 L112.4 397.3 L112.9 397.3 L113.4 397.3 L113.9 397.3 L114.4 397.3 L114.9 397.3 L115.4 397.3 L115.9 397.3 L116.4 397.3 L116.9 397.3 L117.4 397.3 L117.9 397.3 L118.5 397.3 L119.0 397.3 L119.5 397.3 L120.0 397.3 L120.5 397.3 L121.0 397.3 L121.5 397.3 L122.0 397.3 L122.5 397.3 L123.0 397.3 L123.5 397.3 L124.0 397.3 L124.5 397.3 L125.0 397.3 L125.5 397.3 L126.0 397.3 L126.5 397.3 L127.0 397.3 L127.5 397.3 L128.0 397.3 L128.5 397.3 L129.0 397.3 L129.5 397.3 L130.0 397.3 L130.5 397.3 L131.0 397.3 L131.5 397.3 L132.0 397.3 L132.5 397.3 L133.0 397.3 L133.5 397.3 L134.0 397.3 L134.5 397.3 L135.0 397.3 L135.5 397.3 L136.0 397.3 L136.5 397.3 L137.0 397.3 L137.5 397.3 L138.0 397.3 L138.5 397.3 L139.0 397.3 L139.5 397.3 L140.0 397.3 L140.5 397.3 L141.0 397.3 L141.5 397.3 L142.0 397.3 L142.5 397.3 L143.0 397.3 L143.5 397.3 L144.0 397.3 L144.5 397.3 L145.0 397.3 L145.5 397.3 L146.0 397.3 L146.5 397.3 L147.0 397.3 L147.5 397.3 L148.0 397.3 L148.5 397.3 L149.0 397.3 L149.5 397.3 L150.0 397.3 L150.5 397.3 L151.0 397.3 L151.5 397.3 L152.0 397.3 L152.5 397.3 L153.0 397.3 L153.5 397.3 L154.0 397.3 L154.5 397.3 L155.0 397.3 L155.5 397.3 L156.0 397.3 L156.5 397.3 L157.0 397.3 L157.5 397.2 L158.0 397.1 L158.5 396.9 L159.1 396.6 L159.6 396.3 L160.1 396.0 L160.6 395.6 L161.1 395.2 L161.6 394.8 L162.1 394.3 L162.6 393.7 L163.1 393.2 L163.6 392.6 L164.2 392.0 L164.7 391.3 L165.2 390.7 L165.7 390.1 L166.2 389.4 L166.7 388.7 L167.2 388.1 L167.7 387.5 L168.2 386.8 L168.8 386.2 L169.3 385.6 L169.8 385.1 L170.3 384.5 L170.8 384.0 L171.3 383.6 L171.8 383.2 L172.3 382.8 L172.8 382.5 L173.3 382.2 L173.9 381.9 L174.4 381.7 L174.9 381.6 L175.4 381.5 L175.9 381.5 L176.4 381.5 L176.9 381.6 L177.4 381.7 L177.9 381.8 L178.4 381.9 L178.9 382.1 L179.4 382.3 L179.9 382.6 L180.4 382.9 L180.9 383.2 L181.5 383.5 L182.0 383.9 L182.5 384.3 L183.0 384.7 L183.5 385.2 L184.0 385.6 L184.5 386.1 L185.0 386.7 L185.5 387.2 L186.0 387.8 L186.5 388.3 L187.0 388.9 L187.5 389.5 L188.0 390.1 L188.5 390.8 L189.0 391.4 L189.5 392.0 L190.0 392.7 L190.5 393.3 L191.1 394.0 L191.6 394.7 L192.1 395.3 L192.6 396.0 L193.1 396.6 L193.6 397.2 L194.1 397.9 L194.6 398.5 L195.1 399.1 L195.6 399.7 L196.1 400.2 L196.6 400.8 L197.1 401.3 L197.6 401.9 L198.1 402.4 L198.6 402.8 L199.1 403.3 L199.6 403.7 L200.1 404.1 L200.6 404.5 L201.1 404.8 L201.7 405.1 L202.2 405.4 L202.7 405.7 L203.2 405.9 L203.7 406.1 L204.2 406.2 L204.7 406.3 L205.2 406.4 L205.7 406.5 L206.2 406.5 L206.7 406.5 L207.2 406.4 L207.7 406.3 L208.2 406.1 L208.7 405.9 L209.3 405.6 L209.8 405.3 L210.3 404.9 L210.8 404.5 L211.3 404.1 L211.8 403.6 L212.3 403.1 L212.8 402.6 L213.3 402.1 L213.8 401.5 L214.3 401.0 L214.9 400.5 L215.4 399.9 L215.9 399.4 L216.4 398.9 L216.9 398.4 L217.4 397.9 L217.9 397.5 L218.4 397.1 L218.9 396.7 L219.4 396.4 L220.0 396.1 L220.5 395.9 L221.0 395.7 L221.5 395.6 L222.0 395.5 L222.5 395.5 L223.0 395.5 L223.5 395.5 L224.0 395.5 L224.5 395.5 L225.0 395.5 L225.5 395.5 L226.0 395.5 L226.5 395.5 L227.0 395.5 L227.5 395.5 L228.0 395.5 L228.5 395.5 L229.0 395.5 L229.5 395.5 L230.0 395.5 L230.5 395.5 L231.0 395.5 L231.5 395.5 L232.0 395.5 L232.5 395.5 L233.0 395.5 L233.5 395.5 L234.0 395.5 L234.5 395.5 L235.0 395.5 L235.5 395.5 L236.0 395.5 L236.5 395.5 L237.0 395.4 L237.5 395.4 L238.0 395.4 L238.5 395.4 L239.0 395.4 L239.5 395.4 L240.0 395.4 L240.5 395.4 L241.0 395.4 L241.5 395.4 L242.0 395.4 L242.5 395.4 L243.0 395.4 L243.5 395.4 L244.0 395.4 L244.5 395.4 L245.0 395.4 L245.5 395.4 L246.0 395.4 L246.5 395.4 L247.0 395.4 L247.5 395.4 L248.0 395.4 L248.5 395.4 L249.0 395.4 L249.5 395.4 L250.0 395.4 L250.5 395.4 L251.0 395.4 L251.5 395.4 L252.0 395.5 L252.5 395.6 L253.0 395.8 L253.5 396.0 L254.0 396.3 L254.5 396.6 L255.1 397.0 L255.6 397.4 L256.1 397.8 L256.6 398.2 L257.1 398.7 L257.6 399.1 L258.1 399.6 L258.6 400.1 L259.1 400.6 L259.6 401.0 L260.1 401.5 L260.6 401.9 L261.1 402.3 L261.6 402.7 L262.2 403.1 L262.7 403.4 L263.2 403.7 L263.7 403.9 L264.2 404.1 L264.7 404.2 L265.2 404.3 L265.7 404.3 L266.2 404.3 L266.7 404.2 L267.2 404.1 L267.7 404.0 L268.2 403.9 L268.7 403.7 L269.2 403.5 L269.7 403.2 L270.2 402.9 L270.7 402.6 L271.2 402.3 L271.7 401.9 L272.2 401.5 L272.7 401.1 L273.2 400.6 L273.7 400.2 L274.2 399.7 L274.7 399.2 L275.2 398.6 L275.7 398.1 L276.2 397.5 L276.7 397.0 L277.2 396.4 L277.7 395.8 L278.2 395.2 L278.7 394.6 L279.2 394.1 L279.7 393.5 L280.2 392.9 L280.7 392.3 L281.2 391.7 L281.7 391.2 L282.2 390.6 L282.7 390.1 L283.2 389.5 L283.7 389.0 L284.2 388.5 L284.7 388.1 L285.2 387.6 L285.7 387.2 L286.2 386.8 L286.7 386.4 L287.2 386.1 L287.7 385.8 L288.2 385.5 L288.7 385.2 L289.2 385.0 L289.7 384.8 L290.2 384.7 L290.7 384.6 L291.2 384.5 L291.7 384.4 L292.2 384.4 L292.7 384.4 L293.2 384.5 L293.7 384.6 L294.2 384.7 L294.7 384.9 L295.3 385.1 L295.8 385.4 L296.3 385.7 L296.8 386.0 L297.3 386.4 L297.8 386.8 L298.3 387.2 L298.8 387.7 L299.3 388.1 L299.8 388.6 L300.3 389.2 L300.9 389.7 L301.4 390.3 L301.9 390.8 L302.4 391.4 L302.9 392.0 L303.4 392.5 L303.9 393.1 L304.4 393.7 L304.9 394.3 L305.4 394.8 L305.9 395.4 L306.5 395.9 L307.0 396.5 L307.5 397.0 L308.0 397.4 L308.5 397.9 L309.0 398.3 L309.5 398.7 L310.0 399.1 L310.5 399.4 L311.0 399.7 L311.5 400.0 L312.1 400.2 L312.6 400.4 L313.1 400.5 L313.6 400.6 L314.1 400.7 L314.6 400.7 L315.1 400.6 L315.7 400.4 L316.2 400.1 L316.8 399.6 L317.3 399.2 L317.8 398.7 L318.4 398.2 L318.9 397.9 L319.5 397.7 L320.0 397.6" fill="none" stroke="#4a90ff" stroke-width="1.1" stroke-dasharray="1.2 3.6" stroke-linejoin="round"/>
<rect x="101.6" y="278.5" width="150.2" height="47.8" fill="#fff" stroke="#999" stroke-width="1"/>
<path d="M102.9 287.4H131.1" fill="none" stroke="#3a3a3a" stroke-width="1.0" stroke-linejoin="round"/>
<text x="134.5" y="291.9" font-size="12.45" fill="#111">Poisson Ratio = 0.1</text>
<path d="M102.9 302.7H131.1" fill="none" stroke="#ff4a4a" stroke-width="1.0" stroke-dasharray="4.2 4.4" stroke-linejoin="round"/>
<text x="134.5" y="307.2" font-size="12.45" fill="#111">Poisson Ratio = 0.3</text>
<path d="M102.9 318.4H131.1" fill="none" stroke="#4a90ff" stroke-width="1.0" stroke-dasharray="1.2 3.6" stroke-linejoin="round"/>
<text x="134.5" y="322.9" font-size="12.45" fill="#111">Poisson Ratio = 0.45</text>
<text x="141.6" y="530.0" font-size="13.1" font-weight="bold" fill="#111">(b)</text>
<text x="162.3" y="530.0" font-size="13.25" class="cap" font-family="'Liberation Serif','Times New Roman',serif" fill="#111">Poisson Ratio</text>
</g>
<g class="pc">
<path d="M418.4 314.1 V468.4 H686.0" fill="none" stroke="#4d4d4d" stroke-width="1.15"/>
<path d="M414.8 314.1H418.4M416.6 329.5H418.4M414.8 345.0H418.4M416.6 360.4H418.4M414.8 375.8H418.4M416.6 391.3H418.4M414.8 406.7H418.4M416.6 422.1H418.4M414.8 437.6H418.4M416.6 453.0H418.4M414.8 468.4H418.4M442.7 468.4V472.1M478.9 468.4V470.2M515.2 468.4V472.1M551.5 468.4V470.2M587.7 468.4V472.1M624.0 468.4V470.2M660.2 468.4V472.1" fill="none" stroke="#4d4d4d" stroke-width="1.15"/>
<g font-size="12.1" fill="#111">
<text x="412.2" y="318.1" text-anchor="end">0.15</text>
<text x="412.2" y="349.0" text-anchor="end">0.10</text>
<text x="412.2" y="379.9" text-anchor="end">0.05</text>
<text x="412.2" y="410.7" text-anchor="end">0.00</text>
<text x="412.2" y="441.6" text-anchor="end">-0.05</text>
<text x="412.2" y="472.5" text-anchor="end">-0.10</text>
<text x="442.7" y="483.9" text-anchor="middle">0.0000</text>
<text x="515.2" y="483.9" text-anchor="middle">0.0003</text>
<text x="587.7" y="483.9" text-anchor="middle">0.0006</text>
<text x="660.2" y="483.9" text-anchor="middle">0.0009</text>
<text x="552.2" y="503.6" font-size="11.95" text-anchor="middle">Time (s)</text>
<text transform="translate(372.6 385.9) rotate(-90)" font-size="11.95" text-anchor="middle">Displacement (mm)</text>
</g>
<path d="M442.7 406.7 L443.2 406.7 L443.7 406.7 L444.2 406.7 L444.7 406.7 L445.2 406.7 L445.7 406.7 L446.2 406.7 L446.7 406.7 L447.2 406.7 L447.7 406.7 L448.2 406.7 L448.7 406.7 L449.2 406.7 L449.7 406.7 L450.2 406.7 L450.7 406.7 L451.2 406.7 L451.7 406.7 L452.2 406.7 L452.7 406.7 L453.2 406.7 L453.7 406.7 L454.2 406.7 L454.7 406.7 L455.2 406.7 L455.7 406.7 L456.2 406.7 L456.7 406.7 L457.2 406.7 L457.7 406.7 L458.2 406.7 L458.7 406.7 L459.2 406.7 L459.7 406.7 L460.2 406.7 L460.7 406.7 L461.2 406.7 L461.7 406.7 L462.2 406.7 L462.7 406.7 L463.2 406.7 L463.8 406.7 L464.3 406.7 L464.8 406.7 L465.3 406.7 L465.8 406.7 L466.3 406.7 L466.8 406.7 L467.3 406.7 L467.8 406.7 L468.3 406.7 L468.8 406.7 L469.3 406.7 L469.8 406.7 L470.3 406.7 L470.8 406.7 L471.3 406.7 L471.8 406.7 L472.3 406.7 L472.8 406.7 L473.3 406.7 L473.8 406.7 L474.3 406.7 L474.8 406.7 L475.3 406.7 L475.8 406.7 L476.3 406.7 L476.8 406.7 L477.3 406.7 L477.8 406.7 L478.3 406.7 L478.8 406.7 L479.3 406.7 L479.8 406.7 L480.3 406.7 L480.8 406.7 L481.3 406.7 L481.8 406.7 L482.3 406.7 L482.8 406.7 L483.3 406.7 L483.8 406.7 L484.3 406.7 L484.8 406.7 L485.3 406.7 L485.8 406.7 L486.3 406.7 L486.8 406.7 L487.3 406.7 L487.8 406.7 L488.3 406.7 L488.8 406.7 L489.3 406.7 L489.8 406.7 L490.3 406.7 L490.8 406.7 L491.3 406.7 L491.8 406.7 L492.3 406.7 L492.8 406.7 L493.3 406.7 L493.8 406.7 L494.3 406.7 L494.8 406.7 L495.3 406.7 L495.8 406.7 L496.3 406.7 L496.8 406.7 L497.3 406.7 L497.8 406.7 L498.3 406.7 L498.8 406.7 L499.3 406.7 L499.8 406.7 L500.3 406.7 L500.8 406.7 L501.3 406.7 L501.8 406.7 L502.3 406.7 L502.8 406.7 L503.3 406.7 L503.8 406.7 L504.3 406.7 L504.8 406.7 L505.4 406.7 L505.9 406.7 L506.4 406.7 L506.9 406.7 L507.4 406.7 L507.9 406.7 L508.4 406.7 L508.9 406.7 L509.4 406.7 L509.9 406.7 L510.4 406.7 L510.9 406.7 L511.4 406.7 L511.9 406.7 L512.4 406.7 L512.9 406.7 L513.4 406.7 L513.9 406.7 L514.4 406.7 L514.9 406.7 L515.4 406.7 L515.9 406.7 L516.4 406.7 L516.9 406.7 L517.4 406.7 L517.9 406.7 L518.4 406.7 L518.9 406.7 L519.4 406.7 L519.9 406.7 L520.4 406.7 L520.9 406.7 L521.4 406.7 L521.9 406.7 L522.4 406.7 L522.9 406.7 L523.4 406.7 L523.9 406.7 L524.4 406.7 L524.9 406.7 L525.4 406.7 L525.9 406.7 L526.4 406.7 L526.9 406.7 L527.4 406.7 L527.9 406.7 L528.4 406.7 L528.9 406.7 L529.4 406.7 L529.9 406.7 L530.4 406.7 L530.9 406.7 L531.4 406.7 L531.9 406.7 L532.4 406.7 L532.9 406.7 L533.4 406.7 L533.9 406.7 L534.4 406.7 L534.9 406.7 L535.4 406.7 L535.9 406.7 L536.4 406.7 L536.9 406.7 L537.4 406.7 L537.9 406.7 L538.4 406.7 L538.9 406.7 L539.4 406.7 L539.9 406.7 L540.4 406.7 L540.9 406.7 L541.4 406.7 L541.9 406.7 L542.4 406.7 L542.9 406.7 L543.4 406.7 L543.9 406.7 L544.4 406.7 L544.9 406.7 L545.4 406.7 L545.9 406.7 L546.4 406.7 L547.0 406.7 L547.5 406.7 L548.0 406.7 L548.5 406.7 L549.0 406.7 L549.5 406.7 L550.0 406.7 L550.5 406.7 L551.0 406.7 L551.5 406.7 L552.0 406.7 L552.5 406.7 L553.0 406.7 L553.5 406.7 L554.0 406.7 L554.5 406.7 L555.0 406.7 L555.5 406.7 L556.0 406.7 L556.5 406.7 L557.0 406.7 L557.5 406.7 L558.0 406.7 L558.5 406.7 L559.0 406.7 L559.5 406.7 L560.0 406.7 L560.5 406.7 L561.0 406.7 L561.5 406.7 L562.0 406.7 L562.5 406.7 L563.0 406.7 L563.5 406.7 L564.0 406.7 L564.5 406.7 L565.0 406.7 L565.5 406.7 L566.0 406.7 L566.5 406.7 L567.0 406.7 L567.5 406.7 L568.0 405.0 L568.5 403.4 L569.0 401.7 L569.5 400.1 L570.1 398.5 L570.6 396.8 L571.1 395.3 L571.6 393.7 L572.1 392.2 L572.6 390.7 L573.1 389.2 L573.6 387.7 L574.2 386.4 L574.7 385.0 L575.2 383.7 L575.7 382.4 L576.2 381.2 L576.7 380.1 L577.2 379.0 L577.7 378.0 L578.2 377.0 L578.8 376.1 L579.3 375.2 L579.8 374.5 L580.3 373.8 L580.8 373.1 L581.3 372.6 L581.8 372.1 L582.3 371.7 L582.9 371.3 L583.4 371.0 L583.9 370.9 L584.4 370.7 L584.9 370.7 L585.4 370.7 L585.9 370.9 L586.4 371.1 L586.9 371.4 L587.4 371.8 L587.9 372.2 L588.4 372.8 L588.9 373.4 L589.4 374.1 L589.9 374.9 L590.4 375.8 L590.9 376.7 L591.4 377.7 L591.9 378.8 L592.4 380.0 L592.9 381.1 L593.4 382.4 L593.9 383.7 L594.4 385.1 L594.9 386.5 L595.4 387.9 L595.9 389.4 L596.4 390.9 L596.9 392.5 L597.4 394.0 L597.9 395.6 L598.4 397.2 L598.9 398.9 L599.4 400.5 L600.0 402.1 L600.5 403.7 L601.0 405.4 L601.5 407.0 L602.0 408.6 L602.5 410.1 L603.0 411.7 L603.5 413.2 L604.0 414.7 L604.5 416.1 L605.0 417.5 L605.5 418.9 L606.0 420.2 L606.5 421.5 L607.0 422.6 L607.5 423.8 L608.0 424.9 L608.5 425.9 L609.0 426.8 L609.5 427.7 L610.0 428.5 L610.5 429.2 L611.0 429.8 L611.5 430.4 L612.0 430.8 L612.5 431.2 L613.0 431.5 L613.5 431.7 L614.0 431.9 L614.5 431.9 L615.0 431.9 L615.5 431.7 L616.0 431.5 L616.5 431.3 L617.1 430.9 L617.6 430.5 L618.1 430.0 L618.6 429.4 L619.1 428.7 L619.6 428.0 L620.1 427.2 L620.6 426.3 L621.1 425.4 L621.6 424.4 L622.2 423.4 L622.7 422.3 L623.2 421.1 L623.7 419.9 L624.2 418.7 L624.7 417.4 L625.2 416.1 L625.7 414.7 L626.2 413.3 L626.7 411.9 L627.3 410.5 L627.8 409.0 L628.3 407.6 L628.8 406.1 L629.3 404.6 L629.8 404.6 L630.3 404.6 L630.8 404.6 L631.3 404.6 L631.8 404.6 L632.3 404.6 L632.8 404.6 L633.3 404.6 L633.8 404.6 L634.3 404.6 L634.8 404.6 L635.3 404.6 L635.8 404.6 L636.3 404.6 L636.8 404.6 L637.3 404.6 L637.8 404.6 L638.3 404.6 L638.8 404.6 L639.3 404.6 L639.8 404.6 L640.3 404.6 L640.8 404.6 L641.3 404.6 L641.8 404.6 L642.3 404.6 L642.8 404.6 L643.3 404.6 L643.8 404.6 L644.3 404.6 L644.8 404.6 L645.3 404.6 L645.8 404.6 L646.3 404.6 L646.8 404.6 L647.3 404.6 L647.8 404.6 L648.3 404.6 L648.8 404.6 L649.3 404.6 L649.8 404.6 L650.3 404.6 L650.8 404.6 L651.3 404.6 L651.8 404.6 L652.3 404.6 L652.8 404.6 L653.3 404.6 L653.8 404.6 L654.3 404.6 L654.8 404.6 L655.3 404.6 L655.8 404.6 L656.3 404.6 L656.8 404.6 L657.3 404.6 L657.8 404.6 L658.3 404.6 L658.8 404.6 L659.3 404.6 L659.8 404.6 L660.3 404.6 L660.8 404.6 L661.3 404.6 L661.8 404.6 L662.3 404.6 L662.8 404.6 L663.3 404.6 L663.8 404.6 L664.3 404.6 L664.8 404.6 L665.3 404.6 L665.8 404.6 L666.3 404.6 L666.8 404.6 L667.3 404.6 L667.8 404.6 L668.3 404.6 L668.8 404.6 L669.3 404.6 L669.8 404.6 L670.3 404.6 L670.8 404.6 L671.3 404.6 L671.8 404.6 L672.3 404.6 L672.8 404.6 L673.3 404.6 L673.8 404.6 L674.3 404.6 L674.8 404.6 L675.3 404.6 L675.8 404.6 L676.3 404.6 L676.8 404.6 L677.3 404.6 L677.8 404.6 L678.3 404.6 L678.8 404.6 L679.3 404.6 L679.8 404.6 L680.3 404.6 L680.8 404.6 L681.3 404.6 L681.8 404.6 L682.3 404.6" fill="none" stroke="#3a3a3a" stroke-width="1.1" stroke-linejoin="round"/>
<path d="M442.7 406.7 L443.2 406.7 L443.7 406.7 L444.2 406.7 L444.7 406.7 L445.2 406.7 L445.7 406.7 L446.2 406.7 L446.7 406.7 L447.2 406.7 L447.7 406.7 L448.2 406.7 L448.7 406.7 L449.2 406.7 L449.7 406.7 L450.2 406.7 L450.7 406.7 L451.2 406.7 L451.7 406.7 L452.2 406.7 L452.7 406.7 L453.2 406.7 L453.7 406.7 L454.2 406.7 L454.7 406.7 L455.2 406.7 L455.7 406.7 L456.2 406.7 L456.7 406.7 L457.2 406.7 L457.7 406.7 L458.2 406.7 L458.7 406.7 L459.2 406.7 L459.8 406.7 L460.3 406.7 L460.8 406.7 L461.3 406.7 L461.8 406.7 L462.3 406.7 L462.8 406.7 L463.3 406.7 L463.8 406.7 L464.3 406.7 L464.8 406.7 L465.3 406.7 L465.8 406.7 L466.3 406.7 L466.8 406.7 L467.3 406.7 L467.8 406.7 L468.3 406.7 L468.8 406.7 L469.3 406.7 L469.8 406.7 L470.3 406.7 L470.8 406.7 L471.3 406.7 L471.8 406.7 L472.3 406.7 L472.8 406.7 L473.3 406.7 L473.8 406.7 L474.3 406.7 L474.8 406.7 L475.3 406.7 L475.8 406.7 L476.3 406.7 L476.8 406.7 L477.3 406.7 L477.8 406.7 L478.3 406.7 L478.8 406.7 L479.3 406.7 L479.8 406.7 L480.3 406.7 L480.8 406.7 L481.3 406.7 L481.8 406.7 L482.3 406.7 L482.8 406.7 L483.3 406.7 L483.8 406.7 L484.3 406.7 L484.8 406.7 L485.3 406.7 L485.8 406.7 L486.3 406.7 L486.8 406.7 L487.3 406.7 L487.8 406.7 L488.3 406.7 L488.8 406.7 L489.3 406.7 L489.8 406.7 L490.3 406.7 L490.8 406.7 L491.3 406.7 L491.8 406.7 L492.3 406.7 L492.8 406.7 L493.3 406.7 L493.9 406.7 L494.4 406.7 L494.9 406.7 L495.4 406.7 L495.9 406.7 L496.4 406.7 L496.9 406.7 L497.4 406.7 L497.9 406.7 L498.4 406.7 L498.9 406.7 L499.4 406.7 L499.9 406.7 L500.4 406.7 L500.9 406.7 L501.4 406.7 L501.9 406.7 L502.4 406.7 L502.9 406.7 L503.4 406.7 L503.9 406.7 L504.4 406.7 L504.9 406.7 L505.4 406.7 L505.9 406.7 L506.4 406.7 L506.9 406.7 L507.4 406.7 L507.9 406.7 L508.4 406.7 L508.9 406.7 L509.4 406.7 L509.9 406.7 L510.4 406.7 L510.9 406.7 L511.4 406.7 L511.9 406.7 L512.4 406.7 L512.9 406.7 L513.4 406.7 L513.9 406.7 L514.4 406.7 L514.9 406.7 L515.4 406.7 L515.9 406.7 L516.4 406.7 L516.9 406.7 L517.4 406.7 L517.9 406.7 L518.4 406.7 L518.9 406.7 L519.4 406.7 L519.9 406.7 L520.4 406.7 L520.9 406.7 L521.4 406.7 L521.9 406.7 L522.4 406.7 L522.9 406.7 L523.4 406.7 L523.9 406.7 L524.4 406.7 L524.9 406.7 L525.4 406.7 L525.9 406.7 L526.4 406.7 L526.9 406.7 L527.5 406.7 L528.0 406.7 L528.5 406.7 L529.0 406.7 L529.5 406.7 L530.0 406.7 L530.5 406.7 L531.0 406.7 L531.5 406.7 L532.0 406.7 L532.5 406.7 L533.0 406.7 L533.5 406.7 L534.0 406.7 L534.5 406.7 L535.0 406.7 L535.5 406.7 L536.0 406.7 L536.5 406.7 L537.0 406.7 L537.5 406.7 L538.0 406.7 L538.5 406.7 L539.0 406.7 L539.5 406.7 L540.0 406.7 L540.5 406.7 L541.0 406.7 L541.5 406.7 L542.0 406.7 L542.5 406.7 L543.0 406.7 L543.5 406.7 L544.0 406.7 L544.5 406.7 L545.0 406.7 L545.5 406.7 L546.0 406.7 L546.5 406.7 L547.0 406.7 L547.5 406.7 L548.0 406.7 L548.5 406.7 L549.0 406.7 L549.5 406.7 L550.0 406.7 L550.5 406.7 L551.0 406.7 L551.5 406.7 L552.0 406.7 L552.5 406.7 L553.0 406.7 L553.5 406.7 L554.0 406.7 L554.5 406.7 L555.0 406.7 L555.5 406.7 L556.0 406.7 L556.5 406.7 L557.0 406.7 L557.5 406.7 L558.0 406.7 L558.5 406.7 L559.0 406.7 L559.5 406.7 L560.0 406.7 L560.5 406.7 L561.0 406.7 L561.6 406.7 L562.1 406.7 L562.6 406.7 L563.1 406.7 L563.6 406.7 L564.1 406.7 L564.6 406.7 L565.1 406.7 L565.6 406.7 L566.1 406.7 L566.6 406.7 L567.1 406.7 L567.6 406.7 L568.1 406.7 L568.6 406.7 L569.1 406.7 L569.6 406.7 L570.1 406.7 L570.6 406.7 L571.1 406.7 L571.6 406.7 L572.1 406.7 L572.6 406.7 L573.1 406.7 L573.6 406.7 L574.1 406.7 L574.6 406.7 L575.1 406.7 L575.6 406.7 L576.1 406.7 L576.6 406.7 L577.1 406.7 L577.6 406.7 L578.1 406.7 L578.6 405.1 L579.1 403.4 L579.6 401.8 L580.1 400.2 L580.7 398.6 L581.2 397.0 L581.7 395.4 L582.2 393.9 L582.7 392.4 L583.2 390.9 L583.7 389.4 L584.2 388.0 L584.8 386.6 L585.3 385.3 L585.8 384.0 L586.3 382.8 L586.8 381.6 L587.3 380.5 L587.8 379.4 L588.3 378.4 L588.8 377.4 L589.4 376.5 L589.9 375.7 L590.4 374.9 L590.9 374.2 L591.4 373.6 L591.9 373.0 L592.4 372.6 L592.9 372.1 L593.5 371.8 L594.0 371.5 L594.5 371.4 L595.0 371.2 L595.5 371.2 L596.0 371.2 L596.5 371.4 L597.0 371.6 L597.5 371.9 L598.0 372.3 L598.5 372.7 L599.0 373.3 L599.5 373.9 L600.0 374.6 L600.5 375.4 L601.0 376.3 L601.5 377.2 L602.0 378.2 L602.5 379.3 L603.0 380.4 L603.5 381.6 L604.0 382.9 L604.5 384.2 L605.0 385.5 L605.5 386.9 L606.0 388.4 L606.5 389.9 L607.0 391.4 L607.5 392.9 L608.0 394.5 L608.5 396.1 L609.0 397.7 L609.5 399.3 L610.0 400.9 L610.6 402.6 L611.1 404.2 L611.6 405.8 L612.1 407.4 L612.6 409.0 L613.1 410.6 L613.6 412.1 L614.1 413.6 L614.6 415.1 L615.1 416.6 L615.6 418.0 L616.1 419.3 L616.6 420.6 L617.1 421.9 L617.6 423.1 L618.1 424.2 L618.6 425.3 L619.1 426.3 L619.6 427.2 L620.1 428.1 L620.6 428.9 L621.1 429.6 L621.6 430.2 L622.1 430.8 L622.6 431.2 L623.1 431.6 L623.6 431.9 L624.1 432.1 L624.6 432.3 L625.1 432.3 L625.6 432.3 L626.1 432.2 L626.6 432.0 L627.1 431.8 L627.6 431.5 L628.2 431.1 L628.7 430.7 L629.2 430.2 L629.7 429.6 L630.2 429.0 L630.7 428.4 L631.2 427.6 L631.7 426.8 L632.2 426.0 L632.7 425.1 L633.2 424.2 L633.8 423.2 L634.3 422.2 L634.8 421.1 L635.3 420.0 L635.8 418.8 L636.3 417.7 L636.8 416.4 L637.3 415.2 L637.8 413.9 L638.3 412.6 L638.9 411.3 L639.4 410.0 L639.9 408.7 L640.4 407.3 L640.9 406.0 L641.4 404.6 L641.9 404.6 L642.4 404.6 L642.9 404.6 L643.4 404.6 L643.9 404.6 L644.4 404.6 L644.9 404.6 L645.4 404.6 L645.9 404.6 L646.4 404.6 L647.0 404.6 L647.5 404.6 L648.0 404.6 L648.5 404.6 L649.0 404.6 L649.5 404.6 L650.0 404.6 L650.5 404.6 L651.0 404.6 L651.5 404.6 L652.0 404.6 L652.5 404.6 L653.0 404.6 L653.5 404.6 L654.0 404.6 L654.5 404.6 L655.0 404.6 L655.5 404.6 L656.0 404.6 L656.5 404.6 L657.1 404.6 L657.6 404.6 L658.1 404.6 L658.6 404.6 L659.1 404.6 L659.6 404.6 L660.1 404.6 L660.6 404.6 L661.1 404.6 L661.6 404.6 L662.1 404.6 L662.6 404.6 L663.1 404.6 L663.6 404.6 L664.1 404.6 L664.6 404.6 L665.1 404.6 L665.6 404.6 L666.1 404.6 L666.6 404.6 L667.2 404.6 L667.7 404.6 L668.2 404.6 L668.7 404.6 L669.2 404.6 L669.7 404.6 L670.2 404.6 L670.7 404.6 L671.2 404.6 L671.7 404.6 L672.2 404.6 L672.7 404.6 L673.2 404.6 L673.7 404.6 L674.2 404.6 L674.7 404.6 L675.2 404.6 L675.7 404.6 L676.2 404.6 L676.7 404.6 L677.3 404.6 L677.8 404.6 L678.3 404.6 L678.8 404.6 L679.3 404.6 L679.8 404.6 L680.3 404.6 L680.8 404.6 L681.3 404.6 L681.8 404.6 L682.3 404.6" fill="none" stroke="#ff4a4a" stroke-width="1.15" stroke-dasharray="4.2 4.1" stroke-linejoin="round"/>
<path d="M442.7 406.7 L443.2 406.7 L443.7 406.7 L444.2 406.7 L444.7 406.7 L445.2 406.7 L445.7 406.7 L446.2 406.7 L446.7 406.7 L447.2 406.7 L447.7 406.7 L448.2 406.7 L448.7 406.7 L449.2 406.7 L449.7 406.7 L450.2 406.7 L450.7 406.7 L451.2 406.7 L451.7 406.7 L452.2 406.7 L452.7 406.7 L453.2 406.7 L453.7 406.7 L454.2 406.7 L454.7 406.7 L455.2 406.7 L455.7 406.7 L456.2 406.7 L456.7 406.7 L457.2 406.7 L457.7 406.7 L458.2 406.7 L458.7 406.7 L459.2 406.7 L459.7 406.7 L460.2 406.7 L460.7 406.7 L461.2 406.7 L461.7 406.7 L462.2 406.7 L462.7 406.7 L463.2 406.7 L463.7 406.7 L464.2 406.7 L464.7 406.7 L465.2 406.7 L465.7 406.7 L466.2 406.7 L466.7 406.7 L467.2 406.7 L467.7 406.7 L468.2 406.7 L468.7 406.7 L469.2 406.7 L469.7 406.7 L470.2 406.7 L470.7 406.7 L471.2 406.7 L471.7 406.7 L472.2 406.7 L472.7 406.7 L473.2 406.7 L473.7 406.7 L474.2 406.7 L474.7 406.7 L475.2 406.7 L475.7 406.7 L476.2 406.7 L476.7 406.7 L477.2 406.7 L477.7 406.7 L478.2 406.7 L478.7 406.7 L479.2 406.7 L479.7 406.7 L480.2 406.7 L480.7 406.7 L481.2 406.7 L481.7 406.7 L482.2 406.7 L482.7 406.7 L483.2 406.7 L483.7 406.7 L484.2 406.7 L484.7 406.7 L485.2 406.7 L485.7 406.7 L486.2 406.7 L486.7 406.7 L487.2 406.7 L487.7 406.7 L488.2 406.7 L488.7 406.7 L489.2 406.7 L489.7 406.7 L490.2 406.7 L490.7 406.7 L491.2 406.7 L491.7 406.7 L492.2 406.7 L492.7 406.7 L493.2 406.7 L493.7 406.7 L494.2 406.7 L494.7 406.7 L495.2 406.7 L495.7 406.7 L496.2 406.7 L496.7 406.7 L497.2 406.7 L497.7 406.7 L498.2 406.7 L498.7 406.7 L499.2 406.7 L499.7 406.7 L500.2 406.7 L500.7 406.7 L501.2 406.7 L501.7 406.7 L502.2 406.7 L502.7 406.7 L503.2 406.7 L503.7 406.7 L504.2 406.7 L504.7 406.7 L505.2 406.7 L505.7 406.7 L506.2 406.7 L506.7 406.7 L507.2 406.7 L507.7 406.7 L508.2 406.7 L508.7 406.7 L509.2 406.7 L509.7 406.7 L510.2 406.7 L510.7 406.7 L511.2 406.7 L511.7 406.7 L512.2 406.7 L512.7 406.7 L513.2 406.7 L513.7 406.7 L514.2 406.7 L514.7 406.7 L515.2 406.7 L515.8 406.7 L516.3 406.7 L516.8 406.7 L517.3 406.7 L517.8 406.7 L518.3 406.7 L518.8 406.7 L519.3 406.7 L519.8 406.7 L520.3 406.7 L520.8 406.7 L521.3 406.7 L521.8 406.7 L522.3 406.7 L522.8 406.7 L523.3 406.7 L523.8 406.7 L524.3 406.7 L524.8 406.7 L525.3 406.7 L525.8 406.7 L526.3 406.7 L526.8 406.7 L527.3 406.7 L527.8 406.7 L528.3 406.7 L528.8 406.7 L529.3 406.7 L529.8 406.7 L530.3 406.7 L530.8 406.7 L531.3 406.7 L531.8 406.7 L532.3 406.7 L532.8 406.7 L533.3 406.7 L533.8 406.7 L534.3 406.7 L534.8 406.7 L535.3 406.7 L535.8 406.7 L536.3 406.7 L536.8 406.7 L537.3 406.7 L537.8 406.7 L538.3 406.7 L538.8 406.7 L539.3 406.7 L539.8 406.7 L540.3 406.7 L540.8 406.7 L541.3 406.7 L541.8 406.7 L542.3 406.7 L542.8 406.7 L543.3 406.7 L543.8 406.7 L544.3 406.7 L544.8 406.7 L545.3 406.7 L545.8 406.7 L546.3 406.7 L546.8 406.7 L547.3 406.7 L547.8 406.7 L548.3 406.7 L548.8 406.7 L549.3 406.7 L549.8 406.7 L550.3 406.7 L550.8 406.7 L551.3 406.7 L551.8 406.7 L552.3 406.7 L552.8 406.7 L553.3 406.7 L553.8 406.7 L554.3 406.7 L554.8 406.7 L555.3 406.7 L555.8 406.7 L556.3 406.7 L556.8 406.7 L557.3 406.7 L557.8 406.7 L558.3 406.7 L558.8 406.7 L559.3 406.7 L559.8 406.7 L560.3 406.7 L560.8 406.7 L561.3 406.7 L561.8 406.7 L562.3 406.7 L562.8 406.7 L563.3 406.7 L563.8 406.7 L564.3 406.7 L564.8 406.7 L565.3 406.7 L565.8 406.7 L566.3 406.7 L566.8 406.7 L567.3 406.7 L567.8 406.7 L568.3 406.7 L568.8 406.7 L569.3 406.7 L569.8 406.7 L570.3 406.7 L570.8 406.7 L571.3 406.7 L571.8 406.7 L572.3 406.7 L572.8 406.7 L573.3 406.7 L573.8 406.7 L574.3 406.7 L574.8 406.7 L575.3 406.7 L575.8 406.7 L576.3 406.7 L576.8 406.7 L577.3 406.7 L577.8 406.7 L578.3 406.7 L578.8 406.7 L579.3 406.7 L579.8 406.7 L580.3 406.7 L580.8 406.7 L581.3 406.7 L581.8 406.7 L582.3 406.7 L582.8 406.7 L583.3 406.7 L583.8 406.7 L584.3 406.7 L584.8 406.7 L585.3 406.7 L585.8 406.7 L586.3 406.7 L586.8 406.7 L587.3 406.7 L587.8 406.7 L588.3 406.7 L588.8 405.1 L589.3 403.4 L589.8 401.8 L590.3 400.2 L590.9 398.6 L591.4 397.0 L591.9 395.4 L592.4 393.9 L592.9 392.4 L593.4 390.9 L593.9 389.4 L594.4 388.0 L595.0 386.6 L595.5 385.3 L596.0 384.0 L596.5 382.8 L597.0 381.6 L597.5 380.5 L598.0 379.4 L598.5 378.4 L599.0 377.4 L599.6 376.5 L600.1 375.7 L600.6 374.9 L601.1 374.2 L601.6 373.6 L602.1 373.0 L602.6 372.6 L603.1 372.1 L603.7 371.8 L604.2 371.5 L604.7 371.4 L605.2 371.2 L605.7 371.2 L606.2 371.2 L606.7 371.4 L607.2 371.6 L607.7 371.9 L608.2 372.3 L608.7 372.8 L609.2 373.3 L609.7 374.0 L610.2 374.7 L610.7 375.5 L611.2 376.4 L611.7 377.3 L612.2 378.3 L612.7 379.4 L613.2 380.5 L613.7 381.8 L614.2 383.0 L614.7 384.3 L615.2 385.7 L615.7 387.1 L616.2 388.6 L616.7 390.1 L617.2 391.6 L617.7 393.2 L618.2 394.8 L618.7 396.4 L619.2 398.0 L619.7 399.6 L620.2 401.3 L620.8 402.9 L621.3 404.6 L621.8 406.2 L622.3 407.8 L622.8 409.4 L623.3 411.0 L623.8 412.6 L624.3 414.1 L624.8 415.6 L625.3 417.1 L625.8 418.5 L626.3 419.9 L626.8 421.2 L627.3 422.4 L627.8 423.7 L628.3 424.8 L628.8 425.9 L629.3 426.9 L629.8 427.8 L630.3 428.7 L630.8 429.5 L631.3 430.2 L631.8 430.9 L632.3 431.4 L632.8 431.9 L633.3 432.3 L633.8 432.6 L634.3 432.8 L634.8 433.0 L635.3 433.0 L635.8 433.0 L636.3 432.8 L636.8 432.6 L637.3 432.3 L637.9 432.0 L638.4 431.5 L638.9 431.0 L639.4 430.4 L639.9 429.7 L640.4 428.9 L640.9 428.1 L641.4 427.2 L641.9 426.2 L642.4 425.2 L643.0 424.1 L643.5 423.0 L644.0 421.8 L644.5 420.5 L645.0 419.2 L645.5 417.9 L646.0 416.5 L646.5 415.1 L647.0 413.7 L647.5 412.2 L648.1 410.7 L648.6 409.2 L649.1 407.7 L649.6 406.1 L650.1 404.6 L650.6 404.6 L651.1 404.6 L651.6 404.6 L652.1 404.6 L652.6 404.6 L653.1 404.6 L653.6 404.6 L654.1 404.6 L654.6 404.6 L655.1 404.6 L655.6 404.6 L656.1 404.6 L656.6 404.6 L657.1 404.6 L657.6 404.6 L658.1 404.6 L658.7 404.6 L659.2 404.6 L659.7 404.6 L660.2 404.6 L660.7 404.6 L661.2 404.6 L661.7 404.6 L662.2 404.6 L662.7 404.6 L663.2 404.6 L663.7 404.6 L664.2 404.6 L664.7 404.6 L665.2 404.6 L665.7 404.6 L666.2 404.6 L666.7 404.6 L667.2 404.6 L667.7 404.6 L668.2 404.6 L668.7 404.6 L669.2 404.6 L669.7 404.6 L670.2 404.6 L670.7 404.6 L671.2 404.6 L671.7 404.6 L672.2 404.6 L672.7 404.6 L673.2 404.6 L673.7 404.6 L674.2 404.6 L674.8 404.6 L675.3 404.6 L675.8 404.6 L676.3 404.6 L676.8 404.6 L677.3 404.6 L677.8 404.6 L678.3 404.6 L678.8 404.6 L679.3 404.6 L679.8 404.6 L680.3 404.6 L680.8 404.6 L681.3 404.6 L681.8 404.6 L682.3 404.6" fill="none" stroke="#4a90ff" stroke-width="1.1" stroke-dasharray="1.2 3.3" stroke-linejoin="round"/>
<rect x="511.75" y="303.1" width="147.7" height="50.1" fill="#fff" stroke="#a4a4a4" stroke-width="1"/>
<path d="M512.7 312.6H539.9" fill="none" stroke="#3a3a3a" stroke-width="1.0" stroke-linejoin="round"/>
<text x="543.5" y="316.5" font-size="11.95" fill="#111">Density = 1700 kg/m<tspan font-size="8.4" dy="-4.5">3</tspan></text>
<path d="M512.7 328.6H539.9" fill="none" stroke="#ff4a4a" stroke-width="1.0" stroke-dasharray="4.2 4.1" stroke-linejoin="round"/>
<text x="543.5" y="332.5" font-size="11.95" fill="#111">Density = 2000 kg/m<tspan font-size="8.4" dy="-4.5">3</tspan></text>
<path d="M512.7 345.4H539.9" fill="none" stroke="#4a90ff" stroke-width="1.0" stroke-dasharray="1.2 3.3" stroke-linejoin="round"/>
<text x="543.5" y="349.3" font-size="11.95" fill="#111">Density = 2300 kg/m<tspan font-size="8.4" dy="-4.5">3</tspan></text>
<text x="522.5" y="529.7" font-size="13.2" font-weight="bold" fill="#111">(c)</text>
<text x="542.0" y="529.7" font-size="13.3" class="cap" font-family="'Liberation Serif','Times New Roman',serif" fill="#111">Density</text>
</g>
</svg>
</body></html>
